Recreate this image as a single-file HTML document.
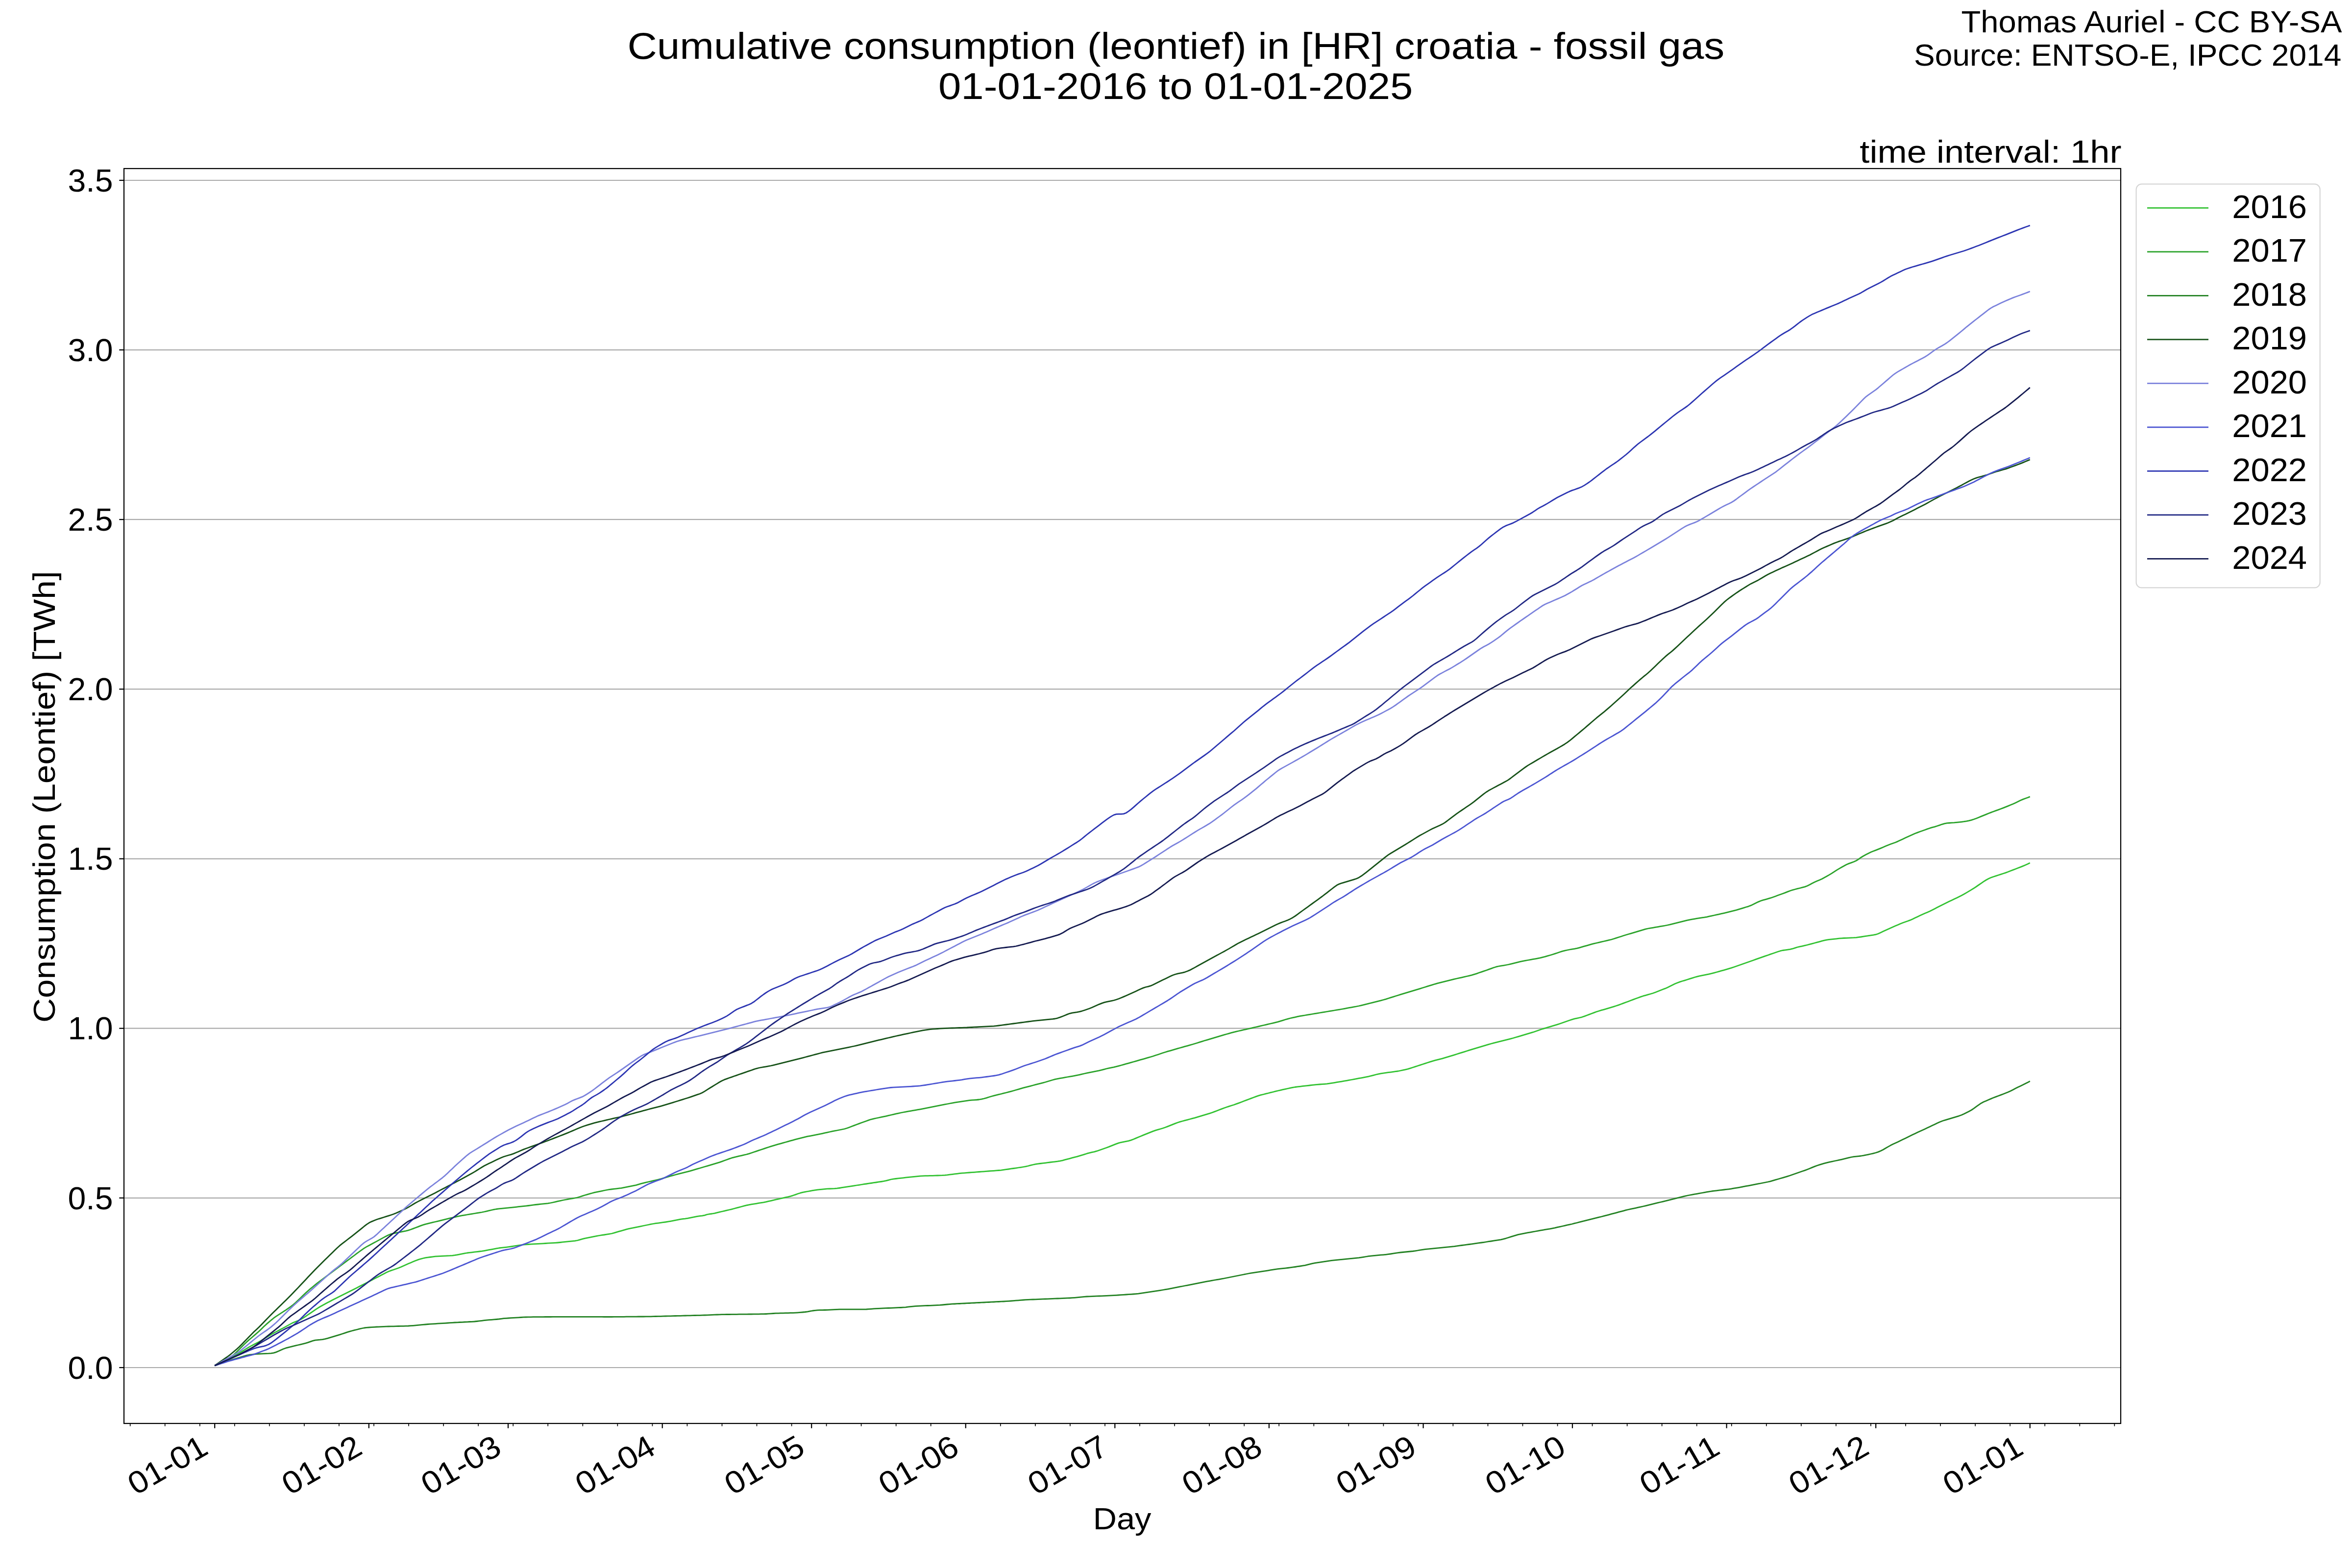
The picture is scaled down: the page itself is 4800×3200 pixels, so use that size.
<!DOCTYPE html><html><head><meta charset="utf-8"><style>html,body{margin:0;padding:0;background:#fff;overflow:hidden;width:4800px;height:3200px;}svg{display:block;}</style></head><body>
<svg width="4800" height="3200" viewBox="0 0 4800 3200" style="font-family:&quot;Liberation Sans&quot;, sans-serif">
<rect width="4800" height="3200" fill="#fff"/>
<line x1="253.0" y1="2791.0" x2="4328.0" y2="2791.0" stroke="#aaaaaa" stroke-width="2.22"/>
<line x1="253.0" y1="2444.8" x2="4328.0" y2="2444.8" stroke="#aaaaaa" stroke-width="2.22"/>
<line x1="253.0" y1="2098.7" x2="4328.0" y2="2098.7" stroke="#aaaaaa" stroke-width="2.22"/>
<line x1="253.0" y1="1752.6" x2="4328.0" y2="1752.6" stroke="#aaaaaa" stroke-width="2.22"/>
<line x1="253.0" y1="1406.4" x2="4328.0" y2="1406.4" stroke="#aaaaaa" stroke-width="2.22"/>
<line x1="253.0" y1="1060.2" x2="4328.0" y2="1060.2" stroke="#aaaaaa" stroke-width="2.22"/>
<line x1="253.0" y1="714.1" x2="4328.0" y2="714.1" stroke="#aaaaaa" stroke-width="2.22"/>
<line x1="253.0" y1="368.0" x2="4328.0" y2="368.0" stroke="#aaaaaa" stroke-width="2.22"/>
<path d="M438.2,2787.0 L443.2,2784.5 L448.2,2781.9 L453.2,2779.4 L458.2,2776.9 L463.2,2774.4 L468.2,2771.8 L473.2,2769.3 L478.2,2766.8 L483.2,2764.2 L488.2,2761.5 L493.2,2758.5 L498.2,2755.4 L503.2,2752.2 L508.2,2749.2 L513.2,2746.4 L518.2,2743.8 L523.2,2741.3 L528.2,2738.8 L533.2,2736.0 L538.2,2732.9 L543.2,2729.7 L548.2,2726.6 L553.2,2723.6 L558.2,2720.8 L563.2,2718.1 L568.2,2715.5 L573.2,2712.8 L578.2,2710.1 L583.2,2707.4 L588.2,2704.6 L593.2,2701.9 L598.2,2699.3 L603.2,2697.2 L608.2,2695.3 L613.2,2693.1 L618.2,2690.1 L623.2,2686.8 L628.2,2683.4 L633.2,2680.0 L638.2,2676.6 L643.2,2673.2 L648.2,2669.9 L653.2,2666.8 L658.2,2664.0 L663.2,2661.2 L668.2,2658.5 L673.2,2655.9 L678.2,2653.3 L683.2,2650.8 L688.2,2648.3 L693.2,2645.8 L698.2,2643.2 L703.2,2640.7 L708.2,2638.2 L713.2,2635.7 L718.2,2633.2 L723.2,2630.7 L728.2,2628.2 L733.2,2625.6 L738.2,2623.1 L743.2,2620.5 L748.2,2617.9 L753.2,2615.3 L758.2,2612.7 L763.2,2610.1 L768.2,2607.5 L773.2,2604.9 L778.2,2602.3 L783.2,2599.7 L788.2,2597.1 L793.2,2594.8 L798.2,2592.9 L803.2,2591.2 L808.2,2589.5 L813.2,2587.7 L818.2,2585.7 L823.2,2583.5 L828.2,2581.3 L833.2,2579.1 L838.2,2577.0 L843.2,2574.8 L848.2,2572.7 L853.2,2570.9 L858.2,2569.3 L863.2,2568.0 L868.2,2566.9 L873.2,2566.2 L878.2,2565.5 L883.2,2564.8 L888.2,2564.2 L893.2,2563.9 L898.2,2563.7 L903.2,2563.4 L908.2,2563.2 L913.2,2562.9 L918.2,2562.7 L923.2,2562.3 L928.2,2561.7 L933.2,2560.8 L938.2,2559.8 L943.2,2558.8 L948.2,2557.8 L953.2,2557.0 L958.2,2556.4 L963.2,2555.8 L968.2,2555.2 L973.2,2554.6 L978.2,2554.0 L983.2,2553.4 L988.2,2552.6 L993.2,2551.7 L998.2,2550.7 L1003.2,2549.8 L1008.2,2548.8 L1013.2,2547.9 L1018.2,2547.0 L1023.2,2546.4 L1028.2,2545.8 L1033.2,2545.3 L1038.2,2544.7 L1043.2,2544.0 L1048.2,2543.2 L1053.2,2542.4 L1058.2,2541.6 L1063.2,2540.8 L1068.2,2540.2 L1073.2,2539.8 L1078.2,2539.5 L1083.2,2539.2 L1088.2,2538.9 L1093.2,2538.6 L1098.2,2538.3 L1103.2,2538.1 L1108.2,2537.8 L1113.2,2537.5 L1118.2,2537.2 L1123.2,2536.9 L1128.2,2536.7 L1133.2,2536.4 L1138.2,2536.0 L1143.2,2535.5 L1148.2,2534.9 L1153.2,2534.4 L1158.2,2533.9 L1163.2,2533.3 L1168.2,2532.8 L1173.2,2532.3 L1178.2,2531.5 L1183.2,2530.1 L1188.2,2528.6 L1193.2,2527.3 L1198.2,2526.3 L1203.2,2525.3 L1208.2,2524.3 L1213.2,2523.3 L1218.2,2522.4 L1223.2,2521.5 L1228.2,2520.7 L1233.2,2520.0 L1238.2,2519.2 L1243.2,2518.4 L1248.2,2517.5 L1253.2,2516.2 L1258.2,2514.7 L1263.2,2513.2 L1268.2,2511.8 L1273.2,2510.3 L1278.2,2508.9 L1283.2,2507.6 L1288.2,2506.6 L1293.2,2505.6 L1298.2,2504.6 L1303.2,2503.6 L1308.2,2502.6 L1313.2,2501.5 L1318.2,2500.5 L1323.2,2499.5 L1328.2,2498.4 L1333.2,2497.5 L1338.2,2496.7 L1343.2,2496.1 L1348.2,2495.4 L1353.2,2494.7 L1358.2,2494.0 L1363.2,2493.2 L1368.2,2492.3 L1373.2,2491.4 L1378.2,2490.4 L1383.2,2489.4 L1388.2,2488.4 L1393.2,2487.6 L1398.2,2487.1 L1403.2,2486.4 L1408.2,2485.4 L1413.2,2484.4 L1418.2,2483.3 L1423.2,2482.3 L1428.2,2481.6 L1433.2,2481.2 L1438.2,2480.1 L1443.2,2478.5 L1448.2,2477.6 L1453.2,2477.0 L1458.2,2476.1 L1463.2,2474.9 L1468.2,2473.7 L1473.2,2472.5 L1478.2,2471.4 L1483.2,2470.2 L1488.2,2469.0 L1493.2,2467.8 L1498.2,2466.5 L1503.2,2465.1 L1508.2,2463.8 L1513.2,2462.5 L1518.2,2461.2 L1523.2,2459.9 L1528.2,2458.8 L1533.2,2457.9 L1538.2,2457.1 L1543.2,2456.3 L1548.2,2455.4 L1553.2,2454.6 L1558.2,2453.8 L1563.2,2452.8 L1568.2,2451.7 L1573.2,2450.6 L1578.2,2449.4 L1583.2,2448.2 L1588.2,2447.1 L1593.2,2446.0 L1598.2,2444.8 L1603.2,2443.7 L1608.2,2442.6 L1613.2,2441.3 L1618.2,2439.8 L1623.2,2438.1 L1628.2,2436.3 L1633.2,2434.7 L1638.2,2433.4 L1643.2,2432.4 L1648.2,2431.5 L1653.2,2430.6 L1658.2,2429.7 L1663.2,2428.9 L1668.2,2428.2 L1673.2,2427.6 L1678.2,2427.1 L1683.2,2426.6 L1688.2,2426.2 L1693.2,2426.0 L1698.2,2425.9 L1703.2,2425.7 L1708.2,2425.2 L1713.2,2424.5 L1718.2,2423.7 L1723.2,2422.9 L1728.2,2422.2 L1733.2,2421.4 L1738.2,2420.6 L1743.2,2419.8 L1748.2,2419.0 L1753.2,2418.3 L1758.2,2417.5 L1763.2,2416.7 L1768.2,2416.0 L1773.2,2415.2 L1778.2,2414.5 L1783.2,2413.7 L1788.2,2413.0 L1793.2,2412.2 L1798.2,2411.5 L1803.2,2410.7 L1808.2,2409.7 L1813.2,2408.3 L1818.2,2407.0 L1823.2,2406.1 L1828.2,2405.5 L1833.2,2404.9 L1838.2,2404.4 L1843.2,2403.8 L1848.2,2403.2 L1853.2,2402.7 L1858.2,2402.2 L1863.2,2401.6 L1868.2,2401.1 L1873.2,2400.6 L1878.2,2400.2 L1883.2,2399.9 L1888.2,2399.7 L1893.2,2399.6 L1898.2,2399.4 L1903.2,2399.3 L1908.2,2399.1 L1913.2,2399.0 L1918.2,2398.8 L1923.2,2398.7 L1928.2,2398.4 L1933.2,2397.9 L1938.2,2397.2 L1943.2,2396.6 L1948.2,2395.9 L1953.2,2395.3 L1958.2,2394.7 L1963.2,2394.2 L1968.2,2393.8 L1973.2,2393.4 L1978.2,2393.0 L1983.2,2392.7 L1988.2,2392.3 L1993.2,2391.9 L1998.2,2391.5 L2003.2,2391.2 L2008.2,2390.8 L2013.2,2390.4 L2018.2,2390.0 L2023.2,2389.7 L2028.2,2389.3 L2033.2,2388.9 L2038.2,2388.5 L2043.2,2388.1 L2048.2,2387.4 L2053.2,2386.7 L2058.2,2386.0 L2063.2,2385.2 L2068.2,2384.5 L2073.2,2383.8 L2078.2,2383.0 L2083.2,2382.3 L2088.2,2381.5 L2093.2,2380.6 L2098.2,2379.5 L2103.2,2378.2 L2108.2,2377.0 L2113.2,2375.9 L2118.2,2375.2 L2123.2,2374.5 L2128.2,2373.9 L2133.2,2373.3 L2138.2,2372.7 L2143.2,2372.0 L2148.2,2371.4 L2153.2,2370.8 L2158.2,2370.2 L2163.2,2369.4 L2168.2,2368.3 L2173.2,2366.9 L2178.2,2365.6 L2183.2,2364.3 L2188.2,2362.9 L2193.2,2361.6 L2198.2,2360.3 L2203.2,2358.8 L2208.2,2357.3 L2213.2,2355.8 L2218.2,2354.2 L2223.2,2352.9 L2228.2,2351.7 L2233.2,2350.6 L2238.2,2349.2 L2243.2,2347.5 L2248.2,2345.8 L2253.2,2344.0 L2258.2,2342.2 L2263.2,2340.4 L2268.2,2338.4 L2273.2,2336.4 L2278.2,2334.4 L2283.2,2332.6 L2288.2,2331.3 L2293.2,2330.3 L2298.2,2329.4 L2303.2,2328.4 L2308.2,2326.9 L2313.2,2325.0 L2318.2,2322.9 L2323.2,2320.8 L2328.2,2318.7 L2333.2,2316.6 L2338.2,2314.6 L2343.2,2312.6 L2348.2,2310.6 L2353.2,2308.6 L2358.2,2306.9 L2363.2,2305.4 L2368.2,2304.0 L2373.2,2302.5 L2378.2,2300.8 L2383.2,2298.9 L2388.2,2296.9 L2393.2,2294.9 L2398.2,2292.9 L2403.2,2291.0 L2408.2,2289.4 L2413.2,2288.0 L2418.2,2286.6 L2423.2,2285.3 L2428.2,2284.0 L2433.2,2282.6 L2438.2,2281.3 L2443.2,2279.8 L2448.2,2278.4 L2453.2,2276.9 L2458.2,2275.4 L2463.2,2273.9 L2468.2,2272.4 L2473.2,2270.7 L2478.2,2268.9 L2483.2,2267.0 L2488.2,2265.0 L2493.2,2263.1 L2498.2,2261.2 L2503.2,2259.5 L2508.2,2257.9 L2513.2,2256.3 L2518.2,2254.7 L2523.2,2252.9 L2528.2,2251.1 L2533.2,2249.2 L2538.2,2247.3 L2543.2,2245.4 L2548.2,2243.5 L2553.2,2241.6 L2558.2,2239.8 L2563.2,2237.9 L2568.2,2236.1 L2573.2,2234.7 L2578.2,2233.5 L2583.2,2232.2 L2588.2,2231.0 L2593.2,2229.7 L2598.2,2228.5 L2603.2,2227.2 L2608.2,2226.0 L2613.2,2224.8 L2618.2,2223.7 L2623.2,2222.6 L2628.2,2221.5 L2633.2,2220.4 L2638.2,2219.4 L2643.2,2218.5 L2648.2,2217.9 L2653.2,2217.3 L2658.2,2216.7 L2663.2,2216.1 L2668.2,2215.6 L2673.2,2215.0 L2678.2,2214.4 L2683.2,2213.9 L2688.2,2213.4 L2693.2,2213.0 L2698.2,2212.7 L2703.2,2212.3 L2708.2,2211.9 L2713.2,2211.2 L2718.2,2210.4 L2723.2,2209.6 L2728.2,2208.7 L2733.2,2207.9 L2738.2,2207.1 L2743.2,2206.2 L2748.2,2205.3 L2753.2,2204.4 L2758.2,2203.5 L2763.2,2202.6 L2768.2,2201.7 L2773.2,2200.7 L2778.2,2199.8 L2783.2,2198.8 L2788.2,2197.8 L2793.2,2196.8 L2798.2,2195.6 L2803.2,2194.3 L2808.2,2193.0 L2813.2,2191.8 L2818.2,2190.8 L2823.2,2190.1 L2828.2,2189.4 L2833.2,2188.7 L2838.2,2188.1 L2843.2,2187.4 L2848.2,2186.7 L2853.2,2186.0 L2858.2,2185.0 L2863.2,2183.9 L2868.2,2182.8 L2873.2,2181.6 L2878.2,2180.1 L2883.2,2178.5 L2888.2,2176.9 L2893.2,2175.3 L2898.2,2173.6 L2903.2,2172.0 L2908.2,2170.4 L2913.2,2168.8 L2918.2,2167.1 L2923.2,2165.6 L2928.2,2164.2 L2933.2,2162.9 L2938.2,2161.6 L2943.2,2160.3 L2948.2,2158.8 L2953.2,2157.3 L2958.2,2155.8 L2963.2,2154.3 L2968.2,2152.8 L2973.2,2151.2 L2978.2,2149.7 L2983.2,2148.1 L2988.2,2146.6 L2993.2,2145.0 L2998.2,2143.4 L3003.2,2141.9 L3008.2,2140.4 L3013.2,2138.9 L3018.2,2137.4 L3023.2,2135.9 L3028.2,2134.4 L3033.2,2132.9 L3038.2,2131.4 L3043.2,2130.0 L3048.2,2128.7 L3053.2,2127.4 L3058.2,2126.2 L3063.2,2124.9 L3068.2,2123.7 L3073.2,2122.4 L3078.2,2121.1 L3083.2,2119.8 L3088.2,2118.5 L3093.2,2117.0 L3098.2,2115.6 L3103.2,2114.1 L3108.2,2112.6 L3113.2,2111.1 L3118.2,2109.7 L3123.2,2108.2 L3128.2,2106.7 L3133.2,2105.0 L3138.2,2103.3 L3143.2,2101.5 L3148.2,2099.8 L3153.2,2098.3 L3158.2,2096.8 L3163.2,2095.3 L3168.2,2093.9 L3173.2,2092.4 L3178.2,2090.9 L3183.2,2089.2 L3188.2,2087.5 L3193.2,2085.7 L3198.2,2084.0 L3203.2,2082.3 L3208.2,2080.6 L3213.2,2079.2 L3218.2,2078.1 L3223.2,2077.0 L3228.2,2075.8 L3233.2,2074.1 L3238.2,2072.2 L3243.2,2070.4 L3248.2,2068.5 L3253.2,2066.6 L3258.2,2064.8 L3263.2,2063.2 L3268.2,2061.7 L3273.2,2060.3 L3278.2,2058.8 L3283.2,2057.3 L3288.2,2055.9 L3293.2,2054.4 L3298.2,2052.8 L3303.2,2051.1 L3308.2,2049.3 L3313.2,2047.4 L3318.2,2045.5 L3323.2,2043.7 L3328.2,2041.8 L3333.2,2039.9 L3338.2,2038.0 L3343.2,2036.2 L3348.2,2034.4 L3353.2,2032.7 L3358.2,2031.3 L3363.2,2029.9 L3368.2,2028.5 L3373.2,2027.0 L3378.2,2025.2 L3383.2,2023.3 L3388.2,2021.3 L3393.2,2019.3 L3398.2,2017.4 L3403.2,2015.2 L3408.2,2012.8 L3413.2,2010.3 L3418.2,2007.8 L3423.2,2005.7 L3428.2,2003.9 L3433.2,2002.3 L3438.2,2000.8 L3443.2,1999.2 L3448.2,1997.7 L3453.2,1996.1 L3458.2,1994.5 L3463.2,1993.1 L3468.2,1991.9 L3473.2,1990.9 L3478.2,1989.9 L3483.2,1988.8 L3488.2,1987.8 L3493.2,1986.7 L3498.2,1985.4 L3503.2,1984.0 L3508.2,1982.6 L3513.2,1981.2 L3518.2,1979.8 L3523.2,1978.4 L3528.2,1976.9 L3533.2,1975.4 L3538.2,1973.7 L3543.2,1972.0 L3548.2,1970.2 L3553.2,1968.5 L3558.2,1966.7 L3563.2,1965.0 L3568.2,1963.2 L3573.2,1961.5 L3578.2,1959.7 L3583.2,1957.9 L3588.2,1956.1 L3593.2,1954.4 L3598.2,1952.6 L3603.2,1950.9 L3608.2,1949.2 L3613.2,1947.4 L3618.2,1945.7 L3623.2,1944.0 L3628.2,1942.3 L3633.2,1940.7 L3638.2,1939.5 L3643.2,1938.8 L3648.2,1938.1 L3653.2,1937.4 L3658.2,1936.2 L3663.2,1934.6 L3668.2,1933.0 L3673.2,1931.9 L3678.2,1930.8 L3683.2,1929.7 L3688.2,1928.5 L3693.2,1927.2 L3698.2,1925.9 L3703.2,1924.5 L3708.2,1923.1 L3713.2,1921.8 L3718.2,1920.4 L3723.2,1919.2 L3728.2,1918.1 L3733.2,1917.4 L3738.2,1916.9 L3743.2,1916.3 L3748.2,1915.8 L3753.2,1915.2 L3758.2,1914.8 L3763.2,1914.5 L3768.2,1914.3 L3773.2,1914.1 L3778.2,1913.9 L3783.2,1913.7 L3788.2,1913.3 L3793.2,1912.7 L3798.2,1912.0 L3803.2,1911.2 L3808.2,1910.4 L3813.2,1909.6 L3818.2,1908.9 L3823.2,1908.2 L3828.2,1907.2 L3833.2,1905.5 L3838.2,1903.2 L3843.2,1900.8 L3848.2,1898.5 L3853.2,1896.2 L3858.2,1894.0 L3863.2,1891.8 L3868.2,1889.6 L3873.2,1887.4 L3878.2,1885.2 L3883.2,1883.3 L3888.2,1881.5 L3893.2,1879.8 L3898.2,1877.9 L3903.2,1875.7 L3908.2,1873.3 L3913.2,1870.9 L3918.2,1868.6 L3923.2,1866.3 L3928.2,1864.1 L3933.2,1861.9 L3938.2,1859.7 L3943.2,1857.3 L3948.2,1854.7 L3953.2,1852.1 L3958.2,1849.5 L3963.2,1846.9 L3968.2,1844.5 L3973.2,1842.1 L3978.2,1839.6 L3983.2,1837.2 L3988.2,1834.8 L3993.2,1832.4 L3998.2,1829.9 L4003.2,1827.4 L4008.2,1824.8 L4013.2,1821.9 L4018.2,1818.9 L4023.2,1815.9 L4028.2,1812.8 L4033.2,1809.5 L4038.2,1806.0 L4043.2,1802.6 L4048.2,1799.2 L4053.2,1796.0 L4058.2,1793.3 L4063.2,1791.0 L4068.2,1789.2 L4073.2,1787.6 L4078.2,1786.0 L4083.2,1784.4 L4088.2,1782.8 L4093.2,1781.1 L4098.2,1779.3 L4103.2,1777.3 L4108.2,1775.4 L4113.2,1773.5 L4118.2,1771.5 L4123.2,1769.6 L4128.2,1767.6 L4133.2,1765.5 L4138.2,1763.3 L4142.8,1761.1" fill="none" stroke="#32c232" stroke-width="2.78" stroke-linejoin="round"/>
<path d="M438.2,2787.0 L443.2,2784.3 L448.2,2781.6 L453.2,2779.0 L458.2,2776.3 L463.2,2773.6 L468.2,2771.0 L473.2,2767.8 L478.2,2763.6 L483.2,2758.7 L488.2,2753.7 L493.2,2748.7 L498.2,2743.7 L503.2,2738.9 L508.2,2734.4 L513.2,2730.2 L518.2,2725.9 L523.2,2721.6 L528.2,2717.2 L533.2,2712.4 L538.2,2707.6 L543.2,2702.9 L548.2,2698.6 L553.2,2694.3 L558.2,2690.2 L563.2,2686.6 L568.2,2683.3 L573.2,2680.1 L578.2,2676.9 L583.2,2673.6 L588.2,2670.1 L593.2,2666.6 L598.2,2662.9 L603.2,2658.6 L608.2,2653.8 L613.2,2648.9 L618.2,2644.1 L623.2,2639.3 L628.2,2634.7 L633.2,2630.3 L638.2,2626.2 L643.2,2622.2 L648.2,2618.2 L653.2,2614.4 L658.2,2610.6 L663.2,2606.9 L668.2,2603.1 L673.2,2599.4 L678.2,2595.6 L683.2,2591.9 L688.2,2588.2 L693.2,2584.4 L698.2,2580.7 L703.2,2576.9 L708.2,2573.2 L713.2,2569.5 L718.2,2565.7 L723.2,2562.0 L728.2,2558.2 L733.2,2554.5 L738.2,2550.8 L743.2,2547.4 L748.2,2544.4 L753.2,2541.7 L758.2,2539.0 L763.2,2536.3 L768.2,2533.6 L773.2,2530.9 L778.2,2528.1 L783.2,2525.4 L788.2,2522.7 L793.2,2520.2 L798.2,2518.4 L803.2,2517.2 L808.2,2516.2 L813.2,2515.2 L818.2,2514.1 L823.2,2513.1 L828.2,2512.1 L833.2,2510.9 L838.2,2509.3 L843.2,2507.4 L848.2,2505.5 L853.2,2503.6 L858.2,2501.6 L863.2,2499.9 L868.2,2498.4 L873.2,2497.1 L878.2,2495.9 L883.2,2494.7 L888.2,2493.5 L893.2,2492.3 L898.2,2491.1 L903.2,2489.8 L908.2,2488.6 L913.2,2487.4 L918.2,2486.2 L923.2,2485.0 L928.2,2483.8 L933.2,2482.6 L938.2,2481.6 L943.2,2480.7 L948.2,2479.9 L953.2,2479.0 L958.2,2478.2 L963.2,2477.4 L968.2,2476.5 L973.2,2475.7 L978.2,2474.8 L983.2,2474.0 L988.2,2473.0 L993.2,2471.8 L998.2,2470.7 L1003.2,2469.5 L1008.2,2468.4 L1013.2,2467.5 L1018.2,2466.8 L1023.2,2466.3 L1028.2,2465.8 L1033.2,2465.3 L1038.2,2464.8 L1043.2,2464.3 L1048.2,2463.8 L1053.2,2463.3 L1058.2,2462.7 L1063.2,2462.2 L1068.2,2461.7 L1073.2,2461.1 L1078.2,2460.5 L1083.2,2459.8 L1088.2,2459.1 L1093.2,2458.5 L1098.2,2458.0 L1103.2,2457.4 L1108.2,2456.9 L1113.2,2456.3 L1118.2,2455.8 L1123.2,2455.0 L1128.2,2454.0 L1133.2,2452.9 L1138.2,2451.7 L1143.2,2450.6 L1148.2,2449.5 L1153.2,2448.5 L1158.2,2447.6 L1163.2,2446.7 L1168.2,2445.9 L1173.2,2445.0 L1178.2,2444.0 L1183.2,2442.5 L1188.2,2440.9 L1193.2,2439.3 L1198.2,2437.8 L1203.2,2436.4 L1208.2,2435.0 L1213.2,2433.7 L1218.2,2432.6 L1223.2,2431.6 L1228.2,2430.6 L1233.2,2429.5 L1238.2,2428.5 L1243.2,2427.7 L1248.2,2427.0 L1253.2,2426.4 L1258.2,2425.8 L1263.2,2425.2 L1268.2,2424.6 L1273.2,2423.7 L1278.2,2422.7 L1283.2,2421.7 L1288.2,2420.7 L1293.2,2419.7 L1298.2,2418.6 L1303.2,2417.2 L1308.2,2415.7 L1313.2,2414.4 L1318.2,2413.2 L1323.2,2412.0 L1328.2,2410.9 L1333.2,2409.7 L1338.2,2408.5 L1343.2,2407.4 L1348.2,2406.1 L1353.2,2404.7 L1358.2,2403.2 L1363.2,2401.7 L1368.2,2400.2 L1373.2,2398.8 L1378.2,2397.5 L1383.2,2396.2 L1388.2,2394.9 L1393.2,2393.7 L1398.2,2392.4 L1403.2,2391.2 L1408.2,2389.8 L1413.2,2388.3 L1418.2,2386.9 L1423.2,2385.4 L1428.2,2384.0 L1433.2,2382.5 L1438.2,2381.0 L1443.2,2379.6 L1448.2,2378.1 L1453.2,2376.6 L1458.2,2375.1 L1463.2,2373.6 L1468.2,2372.1 L1473.2,2370.4 L1478.2,2368.5 L1483.2,2366.7 L1488.2,2364.9 L1493.2,2363.2 L1498.2,2361.8 L1503.2,2360.6 L1508.2,2359.4 L1513.2,2358.3 L1518.2,2357.2 L1523.2,2356.0 L1528.2,2354.6 L1533.2,2353.0 L1538.2,2351.3 L1543.2,2349.6 L1548.2,2347.9 L1553.2,2346.2 L1558.2,2344.6 L1563.2,2342.9 L1568.2,2341.2 L1573.2,2339.6 L1578.2,2338.1 L1583.2,2336.7 L1588.2,2335.2 L1593.2,2333.8 L1598.2,2332.4 L1603.2,2331.0 L1608.2,2329.6 L1613.2,2328.2 L1618.2,2326.8 L1623.2,2325.4 L1628.2,2324.1 L1633.2,2322.8 L1638.2,2321.6 L1643.2,2320.4 L1648.2,2319.2 L1653.2,2318.3 L1658.2,2317.3 L1663.2,2316.4 L1668.2,2315.4 L1673.2,2314.4 L1678.2,2313.3 L1683.2,2312.2 L1688.2,2311.1 L1693.2,2310.0 L1698.2,2308.9 L1703.2,2307.9 L1708.2,2307.0 L1713.2,2306.0 L1718.2,2305.0 L1723.2,2304.0 L1728.2,2302.5 L1733.2,2300.7 L1738.2,2298.8 L1743.2,2296.9 L1748.2,2295.0 L1753.2,2293.1 L1758.2,2291.3 L1763.2,2289.5 L1768.2,2287.7 L1773.2,2285.9 L1778.2,2284.3 L1783.2,2283.1 L1788.2,2282.0 L1793.2,2281.0 L1798.2,2279.9 L1803.2,2278.9 L1808.2,2277.8 L1813.2,2276.7 L1818.2,2275.5 L1823.2,2274.4 L1828.2,2273.2 L1833.2,2272.1 L1838.2,2271.0 L1843.2,2270.0 L1848.2,2269.1 L1853.2,2268.2 L1858.2,2267.3 L1863.2,2266.4 L1868.2,2265.6 L1873.2,2264.7 L1878.2,2263.8 L1883.2,2262.8 L1888.2,2261.9 L1893.2,2260.9 L1898.2,2259.9 L1903.2,2258.9 L1908.2,2257.9 L1913.2,2256.9 L1918.2,2255.9 L1923.2,2254.9 L1928.2,2253.9 L1933.2,2253.0 L1938.2,2252.0 L1943.2,2251.1 L1948.2,2250.2 L1953.2,2249.4 L1958.2,2248.6 L1963.2,2247.8 L1968.2,2247.1 L1973.2,2246.3 L1978.2,2245.6 L1983.2,2245.1 L1988.2,2244.8 L1993.2,2244.5 L1998.2,2244.0 L2003.2,2243.2 L2008.2,2242.0 L2013.2,2240.6 L2018.2,2239.0 L2023.2,2237.5 L2028.2,2236.2 L2033.2,2234.9 L2038.2,2233.7 L2043.2,2232.5 L2048.2,2231.2 L2053.2,2230.0 L2058.2,2228.7 L2063.2,2227.4 L2068.2,2226.0 L2073.2,2224.5 L2078.2,2223.1 L2083.2,2221.6 L2088.2,2220.2 L2093.2,2218.9 L2098.2,2217.6 L2103.2,2216.3 L2108.2,2215.0 L2113.2,2213.7 L2118.2,2212.4 L2123.2,2211.2 L2128.2,2209.8 L2133.2,2208.5 L2138.2,2207.0 L2143.2,2205.5 L2148.2,2204.0 L2153.2,2202.6 L2158.2,2201.6 L2163.2,2200.7 L2168.2,2199.8 L2173.2,2198.9 L2178.2,2198.0 L2183.2,2197.2 L2188.2,2196.3 L2193.2,2195.4 L2198.2,2194.4 L2203.2,2193.3 L2208.2,2192.2 L2213.2,2191.0 L2218.2,2189.9 L2223.2,2188.8 L2228.2,2187.8 L2233.2,2186.8 L2238.2,2185.9 L2243.2,2184.9 L2248.2,2183.7 L2253.2,2182.3 L2258.2,2181.0 L2263.2,2179.8 L2268.2,2178.9 L2273.2,2177.9 L2278.2,2176.7 L2283.2,2175.3 L2288.2,2174.0 L2293.2,2172.6 L2298.2,2171.2 L2303.2,2169.8 L2308.2,2168.4 L2313.2,2167.0 L2318.2,2165.6 L2323.2,2164.2 L2328.2,2162.7 L2333.2,2161.3 L2338.2,2159.9 L2343.2,2158.4 L2348.2,2157.0 L2353.2,2155.5 L2358.2,2153.8 L2363.2,2152.2 L2368.2,2150.5 L2373.2,2148.8 L2378.2,2147.2 L2383.2,2145.7 L2388.2,2144.3 L2393.2,2142.8 L2398.2,2141.4 L2403.2,2139.9 L2408.2,2138.5 L2413.2,2137.1 L2418.2,2135.7 L2423.2,2134.3 L2428.2,2132.9 L2433.2,2131.5 L2438.2,2130.0 L2443.2,2128.5 L2448.2,2126.9 L2453.2,2125.4 L2458.2,2123.8 L2463.2,2122.3 L2468.2,2120.8 L2473.2,2119.3 L2478.2,2117.8 L2483.2,2116.3 L2488.2,2114.8 L2493.2,2113.3 L2498.2,2111.9 L2503.2,2110.5 L2508.2,2109.1 L2513.2,2107.7 L2518.2,2106.4 L2523.2,2105.1 L2528.2,2104.0 L2533.2,2102.8 L2538.2,2101.7 L2543.2,2100.6 L2548.2,2099.5 L2553.2,2098.3 L2558.2,2097.2 L2563.2,2096.0 L2568.2,2094.9 L2573.2,2093.7 L2578.2,2092.5 L2583.2,2091.3 L2588.2,2090.2 L2593.2,2089.0 L2598.2,2087.8 L2603.2,2086.6 L2608.2,2085.4 L2613.2,2083.9 L2618.2,2082.4 L2623.2,2080.8 L2628.2,2079.3 L2633.2,2078.0 L2638.2,2076.9 L2643.2,2075.8 L2648.2,2074.7 L2653.2,2073.7 L2658.2,2072.8 L2663.2,2072.0 L2668.2,2071.1 L2673.2,2070.3 L2678.2,2069.5 L2683.2,2068.7 L2688.2,2067.9 L2693.2,2067.0 L2698.2,2066.2 L2703.2,2065.4 L2708.2,2064.5 L2713.2,2063.7 L2718.2,2062.9 L2723.2,2062.0 L2728.2,2061.2 L2733.2,2060.4 L2738.2,2059.5 L2743.2,2058.6 L2748.2,2057.7 L2753.2,2056.7 L2758.2,2055.8 L2763.2,2054.9 L2768.2,2054.0 L2773.2,2053.0 L2778.2,2051.8 L2783.2,2050.6 L2788.2,2049.4 L2793.2,2048.1 L2798.2,2046.9 L2803.2,2045.7 L2808.2,2044.4 L2813.2,2043.1 L2818.2,2041.9 L2823.2,2040.5 L2828.2,2039.1 L2833.2,2037.5 L2838.2,2035.9 L2843.2,2034.4 L2848.2,2032.8 L2853.2,2031.2 L2858.2,2029.7 L2863.2,2028.2 L2868.2,2026.7 L2873.2,2025.2 L2878.2,2023.7 L2883.2,2022.2 L2888.2,2020.6 L2893.2,2019.1 L2898.2,2017.6 L2903.2,2016.0 L2908.2,2014.5 L2913.2,2012.9 L2918.2,2011.4 L2923.2,2009.9 L2928.2,2008.3 L2933.2,2006.9 L2938.2,2005.6 L2943.2,2004.3 L2948.2,2003.1 L2953.2,2001.8 L2958.2,2000.6 L2963.2,1999.3 L2968.2,1998.1 L2973.2,1997.0 L2978.2,1995.9 L2983.2,1994.8 L2988.2,1993.7 L2993.2,1992.5 L2998.2,1991.4 L3003.2,1990.2 L3008.2,1988.7 L3013.2,1987.1 L3018.2,1985.3 L3023.2,1983.6 L3028.2,1981.9 L3033.2,1980.2 L3038.2,1978.4 L3043.2,1976.6 L3048.2,1974.8 L3053.2,1973.2 L3058.2,1972.0 L3063.2,1971.1 L3068.2,1970.4 L3073.2,1969.5 L3078.2,1968.5 L3083.2,1967.3 L3088.2,1966.1 L3093.2,1964.8 L3098.2,1963.6 L3103.2,1962.4 L3108.2,1961.3 L3113.2,1960.4 L3118.2,1959.5 L3123.2,1958.6 L3128.2,1957.7 L3133.2,1956.8 L3138.2,1955.8 L3143.2,1954.9 L3148.2,1953.7 L3153.2,1952.4 L3158.2,1950.9 L3163.2,1949.5 L3168.2,1948.0 L3173.2,1946.4 L3178.2,1944.7 L3183.2,1943.0 L3188.2,1941.4 L3193.2,1940.1 L3198.2,1939.0 L3203.2,1938.0 L3208.2,1937.2 L3213.2,1936.4 L3218.2,1935.4 L3223.2,1934.1 L3228.2,1932.7 L3233.2,1931.2 L3238.2,1929.8 L3243.2,1928.3 L3248.2,1926.9 L3253.2,1925.7 L3258.2,1924.5 L3263.2,1923.3 L3268.2,1922.2 L3273.2,1921.0 L3278.2,1919.9 L3283.2,1918.7 L3288.2,1917.5 L3293.2,1916.0 L3298.2,1914.4 L3303.2,1912.8 L3308.2,1911.2 L3313.2,1909.5 L3318.2,1908.0 L3323.2,1906.5 L3328.2,1905.1 L3333.2,1903.6 L3338.2,1902.2 L3343.2,1900.7 L3348.2,1899.2 L3353.2,1897.7 L3358.2,1896.2 L3363.2,1895.0 L3368.2,1894.1 L3373.2,1893.3 L3378.2,1892.4 L3383.2,1891.6 L3388.2,1890.7 L3393.2,1889.9 L3398.2,1889.0 L3403.2,1888.0 L3408.2,1886.9 L3413.2,1885.6 L3418.2,1884.4 L3423.2,1883.2 L3428.2,1881.9 L3433.2,1880.6 L3438.2,1879.4 L3443.2,1878.2 L3448.2,1877.2 L3453.2,1876.2 L3458.2,1875.3 L3463.2,1874.4 L3468.2,1873.7 L3473.2,1872.9 L3478.2,1872.2 L3483.2,1871.3 L3488.2,1870.2 L3493.2,1869.1 L3498.2,1868.0 L3503.2,1866.9 L3508.2,1865.8 L3513.2,1864.7 L3518.2,1863.6 L3523.2,1862.4 L3528.2,1861.2 L3533.2,1859.9 L3538.2,1858.7 L3543.2,1857.4 L3548.2,1855.9 L3553.2,1854.4 L3558.2,1852.9 L3563.2,1851.3 L3568.2,1849.8 L3573.2,1847.9 L3578.2,1845.6 L3583.2,1843.1 L3588.2,1840.6 L3593.2,1838.5 L3598.2,1836.9 L3603.2,1835.6 L3608.2,1834.2 L3613.2,1832.7 L3618.2,1831.0 L3623.2,1829.2 L3628.2,1827.3 L3633.2,1825.5 L3638.2,1823.7 L3643.2,1821.9 L3648.2,1819.9 L3653.2,1818.0 L3658.2,1816.3 L3663.2,1815.0 L3668.2,1813.7 L3673.2,1812.5 L3678.2,1811.2 L3683.2,1809.9 L3688.2,1808.0 L3693.2,1805.5 L3698.2,1802.8 L3703.2,1800.3 L3708.2,1798.1 L3713.2,1796.0 L3718.2,1793.7 L3723.2,1791.0 L3728.2,1788.2 L3733.2,1785.4 L3738.2,1782.4 L3743.2,1779.1 L3748.2,1775.9 L3753.2,1772.9 L3758.2,1770.0 L3763.2,1767.2 L3768.2,1764.5 L3773.2,1762.4 L3778.2,1760.6 L3783.2,1758.8 L3788.2,1756.5 L3793.2,1753.3 L3798.2,1749.7 L3803.2,1746.7 L3808.2,1744.0 L3813.2,1741.4 L3818.2,1739.0 L3823.2,1737.0 L3828.2,1735.1 L3833.2,1733.1 L3838.2,1731.1 L3843.2,1729.0 L3848.2,1726.8 L3853.2,1724.7 L3858.2,1722.8 L3863.2,1721.0 L3868.2,1719.2 L3873.2,1717.1 L3878.2,1714.8 L3883.2,1712.5 L3888.2,1710.1 L3893.2,1707.8 L3898.2,1705.5 L3903.2,1703.2 L3908.2,1701.0 L3913.2,1699.1 L3918.2,1697.2 L3923.2,1695.5 L3928.2,1693.7 L3933.2,1691.9 L3938.2,1690.2 L3943.2,1688.7 L3948.2,1687.4 L3953.2,1685.8 L3958.2,1684.1 L3963.2,1682.3 L3968.2,1680.8 L3973.2,1679.9 L3978.2,1679.5 L3983.2,1679.2 L3988.2,1678.9 L3993.2,1678.4 L3998.2,1677.8 L4003.2,1677.3 L4008.2,1676.7 L4013.2,1675.9 L4018.2,1674.9 L4023.2,1673.6 L4028.2,1672.0 L4033.2,1670.2 L4038.2,1668.2 L4043.2,1666.1 L4048.2,1664.1 L4053.2,1662.1 L4058.2,1660.0 L4063.2,1658.1 L4068.2,1656.2 L4073.2,1654.4 L4078.2,1652.6 L4083.2,1650.8 L4088.2,1648.9 L4093.2,1646.9 L4098.2,1644.9 L4103.2,1642.8 L4108.2,1640.7 L4113.2,1638.4 L4118.2,1636.0 L4123.2,1633.5 L4128.2,1631.4 L4133.2,1629.5 L4138.2,1627.7 L4142.8,1625.9" fill="none" stroke="#2aa22a" stroke-width="2.78" stroke-linejoin="round"/>
<path d="M438.2,2787.0 L443.2,2785.2 L448.2,2783.5 L453.2,2781.7 L458.2,2780.0 L463.2,2778.2 L468.2,2776.6 L473.2,2775.0 L478.2,2773.5 L483.2,2772.0 L488.2,2770.5 L493.2,2769.0 L498.2,2767.5 L503.2,2766.1 L508.2,2765.0 L513.2,2764.3 L518.2,2763.8 L523.2,2763.4 L528.2,2763.0 L533.2,2762.8 L538.2,2762.6 L543.2,2762.4 L548.2,2762.2 L553.2,2761.8 L558.2,2761.1 L563.2,2759.6 L568.2,2757.5 L573.2,2755.2 L578.2,2753.0 L583.2,2751.2 L588.2,2749.8 L593.2,2748.6 L598.2,2747.4 L603.2,2746.2 L608.2,2745.0 L613.2,2743.9 L618.2,2742.7 L623.2,2741.4 L628.2,2739.9 L633.2,2738.1 L638.2,2736.4 L643.2,2735.2 L648.2,2734.6 L653.2,2734.2 L658.2,2733.6 L663.2,2732.7 L668.2,2731.4 L673.2,2729.9 L678.2,2728.4 L683.2,2726.9 L688.2,2725.4 L693.2,2723.9 L698.2,2722.2 L703.2,2720.6 L708.2,2718.9 L713.2,2717.4 L718.2,2716.0 L723.2,2714.7 L728.2,2713.5 L733.2,2712.2 L738.2,2711.0 L743.2,2710.0 L748.2,2709.4 L753.2,2709.0 L758.2,2708.6 L763.2,2708.3 L768.2,2708.0 L773.2,2707.8 L778.2,2707.6 L783.2,2707.4 L788.2,2707.2 L793.2,2707.0 L798.2,2706.9 L803.2,2706.8 L808.2,2706.6 L813.2,2706.5 L818.2,2706.4 L823.2,2706.3 L828.2,2706.1 L833.2,2706.0 L838.2,2705.7 L843.2,2705.3 L848.2,2704.8 L853.2,2704.4 L858.2,2703.9 L863.2,2703.4 L868.2,2703.0 L873.2,2702.5 L878.2,2702.2 L883.2,2701.9 L888.2,2701.6 L893.2,2701.2 L898.2,2700.9 L903.2,2700.6 L908.2,2700.3 L913.2,2700.0 L918.2,2699.7 L923.2,2699.3 L928.2,2699.0 L933.2,2698.8 L938.2,2698.5 L943.2,2698.3 L948.2,2698.0 L953.2,2697.8 L958.2,2697.5 L963.2,2697.3 L968.2,2697.0 L973.2,2696.5 L978.2,2695.9 L983.2,2695.3 L988.2,2694.7 L993.2,2694.2 L998.2,2693.7 L1003.2,2693.3 L1008.2,2692.9 L1013.2,2692.5 L1018.2,2692.0 L1023.2,2691.3 L1028.2,2690.7 L1033.2,2690.3 L1038.2,2690.0 L1043.2,2689.7 L1048.2,2689.4 L1053.2,2689.1 L1058.2,2688.8 L1063.2,2688.5 L1068.2,2688.2 L1073.2,2688.0 L1078.2,2687.8 L1083.2,2687.8 L1088.2,2687.7 L1093.2,2687.7 L1098.2,2687.7 L1103.2,2687.6 L1108.2,2687.6 L1113.2,2687.5 L1118.2,2687.5 L1123.2,2687.5 L1128.2,2687.4 L1133.2,2687.4 L1138.2,2687.3 L1143.2,2687.3 L1148.2,2687.3 L1153.2,2687.3 L1158.2,2687.3 L1163.2,2687.4 L1168.2,2687.4 L1173.2,2687.4 L1178.2,2687.4 L1183.2,2687.4 L1188.2,2687.4 L1193.2,2687.4 L1198.2,2687.4 L1203.2,2687.4 L1208.2,2687.4 L1213.2,2687.4 L1218.2,2687.4 L1223.2,2687.4 L1228.2,2687.4 L1233.2,2687.5 L1238.2,2687.5 L1243.2,2687.5 L1248.2,2687.5 L1253.2,2687.4 L1258.2,2687.4 L1263.2,2687.3 L1268.2,2687.3 L1273.2,2687.3 L1278.2,2687.2 L1283.2,2687.2 L1288.2,2687.2 L1293.2,2687.1 L1298.2,2687.1 L1303.2,2687.0 L1308.2,2687.0 L1313.2,2687.0 L1318.2,2686.9 L1323.2,2686.9 L1328.2,2686.8 L1333.2,2686.6 L1338.2,2686.5 L1343.2,2686.4 L1348.2,2686.3 L1353.2,2686.1 L1358.2,2686.0 L1363.2,2685.9 L1368.2,2685.8 L1373.2,2685.6 L1378.2,2685.5 L1383.2,2685.4 L1388.2,2685.3 L1393.2,2685.1 L1398.2,2685.0 L1403.2,2684.9 L1408.2,2684.8 L1413.2,2684.6 L1418.2,2684.5 L1423.2,2684.4 L1428.2,2684.3 L1433.2,2684.1 L1438.2,2684.0 L1443.2,2683.8 L1448.2,2683.6 L1453.2,2683.4 L1458.2,2683.2 L1463.2,2683.0 L1468.2,2682.8 L1473.2,2682.6 L1478.2,2682.6 L1483.2,2682.5 L1488.2,2682.5 L1493.2,2682.4 L1498.2,2682.3 L1503.2,2682.3 L1508.2,2682.2 L1513.2,2682.2 L1518.2,2682.1 L1523.2,2682.1 L1528.2,2682.0 L1533.2,2682.0 L1538.2,2681.9 L1543.2,2681.8 L1548.2,2681.8 L1553.2,2681.7 L1558.2,2681.7 L1563.2,2681.5 L1568.2,2681.2 L1573.2,2680.9 L1578.2,2680.5 L1583.2,2680.2 L1588.2,2680.1 L1593.2,2679.9 L1598.2,2679.8 L1603.2,2679.7 L1608.2,2679.6 L1613.2,2679.4 L1618.2,2679.3 L1623.2,2679.1 L1628.2,2678.8 L1633.2,2678.4 L1638.2,2678.0 L1643.2,2677.5 L1648.2,2676.8 L1653.2,2675.9 L1658.2,2675.0 L1663.2,2674.3 L1668.2,2673.9 L1673.2,2673.7 L1678.2,2673.6 L1683.2,2673.5 L1688.2,2673.3 L1693.2,2673.1 L1698.2,2672.8 L1703.2,2672.6 L1708.2,2672.4 L1713.2,2672.2 L1718.2,2672.1 L1723.2,2672.1 L1728.2,2672.1 L1733.2,2672.1 L1738.2,2672.1 L1743.2,2672.1 L1748.2,2672.1 L1753.2,2672.1 L1758.2,2672.1 L1763.2,2672.1 L1768.2,2672.0 L1773.2,2671.7 L1778.2,2671.3 L1783.2,2670.9 L1788.2,2670.6 L1793.2,2670.3 L1798.2,2670.1 L1803.2,2669.9 L1808.2,2669.7 L1813.2,2669.5 L1818.2,2669.3 L1823.2,2669.1 L1828.2,2668.9 L1833.2,2668.7 L1838.2,2668.5 L1843.2,2668.2 L1848.2,2667.8 L1853.2,2667.2 L1858.2,2666.6 L1863.2,2666.1 L1868.2,2665.6 L1873.2,2665.3 L1878.2,2665.1 L1883.2,2664.9 L1888.2,2664.7 L1893.2,2664.5 L1898.2,2664.3 L1903.2,2664.1 L1908.2,2663.8 L1913.2,2663.6 L1918.2,2663.4 L1923.2,2663.0 L1928.2,2662.5 L1933.2,2662.0 L1938.2,2661.6 L1943.2,2661.2 L1948.2,2661.0 L1953.2,2660.7 L1958.2,2660.5 L1963.2,2660.2 L1968.2,2660.0 L1973.2,2659.7 L1978.2,2659.5 L1983.2,2659.2 L1988.2,2659.0 L1993.2,2658.7 L1998.2,2658.5 L2003.2,2658.2 L2008.2,2658.0 L2013.2,2657.7 L2018.2,2657.5 L2023.2,2657.2 L2028.2,2657.0 L2033.2,2656.7 L2038.2,2656.5 L2043.2,2656.2 L2048.2,2656.0 L2053.2,2655.7 L2058.2,2655.3 L2063.2,2655.0 L2068.2,2654.6 L2073.2,2654.2 L2078.2,2653.8 L2083.2,2653.4 L2088.2,2653.0 L2093.2,2652.6 L2098.2,2652.4 L2103.2,2652.2 L2108.2,2652.0 L2113.2,2651.8 L2118.2,2651.6 L2123.2,2651.4 L2128.2,2651.2 L2133.2,2651.0 L2138.2,2650.8 L2143.2,2650.6 L2148.2,2650.4 L2153.2,2650.2 L2158.2,2650.0 L2163.2,2649.8 L2168.2,2649.6 L2173.2,2649.4 L2178.2,2649.2 L2183.2,2649.0 L2188.2,2648.7 L2193.2,2648.3 L2198.2,2647.8 L2203.2,2647.3 L2208.2,2646.8 L2213.2,2646.3 L2218.2,2646.0 L2223.2,2645.8 L2228.2,2645.6 L2233.2,2645.4 L2238.2,2645.2 L2243.2,2645.0 L2248.2,2644.8 L2253.2,2644.6 L2258.2,2644.4 L2263.2,2644.2 L2268.2,2643.9 L2273.2,2643.6 L2278.2,2643.3 L2283.2,2643.0 L2288.2,2642.6 L2293.2,2642.3 L2298.2,2642.0 L2303.2,2641.6 L2308.2,2641.3 L2313.2,2641.0 L2318.2,2640.6 L2323.2,2640.1 L2328.2,2639.4 L2333.2,2638.7 L2338.2,2637.9 L2343.2,2637.1 L2348.2,2636.4 L2353.2,2635.6 L2358.2,2634.8 L2363.2,2634.1 L2368.2,2633.3 L2373.2,2632.5 L2378.2,2631.7 L2383.2,2630.8 L2388.2,2629.8 L2393.2,2628.8 L2398.2,2627.9 L2403.2,2626.9 L2408.2,2625.9 L2413.2,2625.0 L2418.2,2624.0 L2423.2,2623.1 L2428.2,2622.1 L2433.2,2621.2 L2438.2,2620.2 L2443.2,2619.2 L2448.2,2618.2 L2453.2,2617.2 L2458.2,2616.2 L2463.2,2615.2 L2468.2,2614.3 L2473.2,2613.4 L2478.2,2612.5 L2483.2,2611.7 L2488.2,2610.8 L2493.2,2609.9 L2498.2,2609.0 L2503.2,2608.0 L2508.2,2607.0 L2513.2,2606.0 L2518.2,2605.0 L2523.2,2604.0 L2528.2,2603.0 L2533.2,2602.0 L2538.2,2601.0 L2543.2,2600.0 L2548.2,2599.0 L2553.2,2598.1 L2558.2,2597.3 L2563.2,2596.6 L2568.2,2595.8 L2573.2,2595.1 L2578.2,2594.3 L2583.2,2593.6 L2588.2,2592.8 L2593.2,2591.9 L2598.2,2591.1 L2603.2,2590.3 L2608.2,2589.7 L2613.2,2589.2 L2618.2,2588.6 L2623.2,2588.1 L2628.2,2587.5 L2633.2,2586.9 L2638.2,2586.2 L2643.2,2585.5 L2648.2,2584.7 L2653.2,2584.0 L2658.2,2583.2 L2663.2,2582.3 L2668.2,2581.1 L2673.2,2579.8 L2678.2,2578.6 L2683.2,2577.7 L2688.2,2576.9 L2693.2,2576.1 L2698.2,2575.3 L2703.2,2574.6 L2708.2,2573.8 L2713.2,2573.1 L2718.2,2572.4 L2723.2,2571.9 L2728.2,2571.4 L2733.2,2570.9 L2738.2,2570.4 L2743.2,2569.9 L2748.2,2569.4 L2753.2,2568.9 L2758.2,2568.4 L2763.2,2567.9 L2768.2,2567.4 L2773.2,2566.9 L2778.2,2566.2 L2783.2,2565.4 L2788.2,2564.5 L2793.2,2563.7 L2798.2,2563.1 L2803.2,2562.6 L2808.2,2562.1 L2813.2,2561.7 L2818.2,2561.2 L2823.2,2560.8 L2828.2,2560.3 L2833.2,2559.7 L2838.2,2559.0 L2843.2,2558.2 L2848.2,2557.4 L2853.2,2556.7 L2858.2,2556.0 L2863.2,2555.5 L2868.2,2555.0 L2873.2,2554.5 L2878.2,2554.0 L2883.2,2553.5 L2888.2,2552.8 L2893.2,2552.0 L2898.2,2551.2 L2903.2,2550.4 L2908.2,2549.7 L2913.2,2549.1 L2918.2,2548.6 L2923.2,2548.1 L2928.2,2547.6 L2933.2,2547.1 L2938.2,2546.6 L2943.2,2546.1 L2948.2,2545.6 L2953.2,2545.1 L2958.2,2544.6 L2963.2,2544.1 L2968.2,2543.6 L2973.2,2542.9 L2978.2,2542.2 L2983.2,2541.5 L2988.2,2540.9 L2993.2,2540.2 L2998.2,2539.5 L3003.2,2538.8 L3008.2,2538.1 L3013.2,2537.4 L3018.2,2536.7 L3023.2,2536.0 L3028.2,2535.3 L3033.2,2534.5 L3038.2,2533.7 L3043.2,2533.0 L3048.2,2532.2 L3053.2,2531.4 L3058.2,2530.6 L3063.2,2529.8 L3068.2,2528.7 L3073.2,2527.3 L3078.2,2525.7 L3083.2,2524.2 L3088.2,2522.6 L3093.2,2521.1 L3098.2,2519.7 L3103.2,2518.6 L3108.2,2517.6 L3113.2,2516.6 L3118.2,2515.7 L3123.2,2514.8 L3128.2,2513.9 L3133.2,2513.0 L3138.2,2512.1 L3143.2,2511.2 L3148.2,2510.3 L3153.2,2509.4 L3158.2,2508.6 L3163.2,2507.8 L3168.2,2506.9 L3173.2,2505.9 L3178.2,2504.7 L3183.2,2503.6 L3188.2,2502.5 L3193.2,2501.4 L3198.2,2500.2 L3203.2,2499.1 L3208.2,2498.0 L3213.2,2496.7 L3218.2,2495.5 L3223.2,2494.2 L3228.2,2492.9 L3233.2,2491.6 L3238.2,2490.4 L3243.2,2489.1 L3248.2,2487.9 L3253.2,2486.7 L3258.2,2485.4 L3263.2,2484.2 L3268.2,2483.0 L3273.2,2481.7 L3278.2,2480.4 L3283.2,2479.1 L3288.2,2477.7 L3293.2,2476.4 L3298.2,2475.1 L3303.2,2473.7 L3308.2,2472.4 L3313.2,2471.1 L3318.2,2469.7 L3323.2,2468.5 L3328.2,2467.4 L3333.2,2466.4 L3338.2,2465.3 L3343.2,2464.2 L3348.2,2463.1 L3353.2,2462.0 L3358.2,2460.8 L3363.2,2459.6 L3368.2,2458.3 L3373.2,2457.1 L3378.2,2455.9 L3383.2,2454.7 L3388.2,2453.5 L3393.2,2452.3 L3398.2,2451.1 L3403.2,2449.8 L3408.2,2448.6 L3413.2,2447.3 L3418.2,2446.1 L3423.2,2444.8 L3428.2,2443.6 L3433.2,2442.3 L3438.2,2441.1 L3443.2,2440.0 L3448.2,2439.0 L3453.2,2438.1 L3458.2,2437.2 L3463.2,2436.3 L3468.2,2435.4 L3473.2,2434.5 L3478.2,2433.6 L3483.2,2432.7 L3488.2,2431.8 L3493.2,2431.0 L3498.2,2430.4 L3503.2,2429.8 L3508.2,2429.2 L3513.2,2428.6 L3518.2,2428.0 L3523.2,2427.4 L3528.2,2426.8 L3533.2,2426.1 L3538.2,2425.2 L3543.2,2424.4 L3548.2,2423.6 L3553.2,2422.7 L3558.2,2421.7 L3563.2,2420.7 L3568.2,2419.8 L3573.2,2418.8 L3578.2,2417.9 L3583.2,2416.9 L3588.2,2415.9 L3593.2,2415.0 L3598.2,2414.0 L3603.2,2413.0 L3608.2,2412.0 L3613.2,2410.8 L3618.2,2409.4 L3623.2,2407.9 L3628.2,2406.5 L3633.2,2405.0 L3638.2,2403.6 L3643.2,2402.1 L3648.2,2400.6 L3653.2,2399.0 L3658.2,2397.2 L3663.2,2395.5 L3668.2,2393.7 L3673.2,2392.0 L3678.2,2390.3 L3683.2,2388.6 L3688.2,2386.7 L3693.2,2384.7 L3698.2,2382.6 L3703.2,2380.6 L3708.2,2378.7 L3713.2,2377.1 L3718.2,2375.6 L3723.2,2374.1 L3728.2,2372.8 L3733.2,2371.6 L3738.2,2370.6 L3743.2,2369.5 L3748.2,2368.5 L3753.2,2367.4 L3758.2,2366.3 L3763.2,2365.1 L3768.2,2363.8 L3773.2,2362.6 L3778.2,2361.5 L3783.2,2360.7 L3788.2,2360.2 L3793.2,2359.6 L3798.2,2359.0 L3803.2,2358.2 L3808.2,2357.2 L3813.2,2356.1 L3818.2,2355.0 L3823.2,2353.8 L3828.2,2352.5 L3833.2,2350.9 L3838.2,2348.8 L3843.2,2346.2 L3848.2,2343.3 L3853.2,2340.4 L3858.2,2337.6 L3863.2,2335.0 L3868.2,2332.7 L3873.2,2330.4 L3878.2,2328.0 L3883.2,2325.6 L3888.2,2323.2 L3893.2,2320.7 L3898.2,2318.3 L3903.2,2315.8 L3908.2,2313.4 L3913.2,2311.0 L3918.2,2308.7 L3923.2,2306.5 L3928.2,2304.2 L3933.2,2301.8 L3938.2,2299.4 L3943.2,2297.1 L3948.2,2294.7 L3953.2,2292.3 L3958.2,2290.0 L3963.2,2288.0 L3968.2,2286.3 L3973.2,2284.8 L3978.2,2283.3 L3983.2,2281.8 L3988.2,2280.3 L3993.2,2278.8 L3998.2,2277.3 L4003.2,2275.5 L4008.2,2273.2 L4013.2,2270.7 L4018.2,2268.2 L4023.2,2265.5 L4028.2,2262.1 L4033.2,2258.4 L4038.2,2254.8 L4043.2,2251.4 L4048.2,2248.8 L4053.2,2246.7 L4058.2,2244.5 L4063.2,2242.4 L4068.2,2240.3 L4073.2,2238.4 L4078.2,2236.5 L4083.2,2234.6 L4088.2,2232.7 L4093.2,2230.8 L4098.2,2228.8 L4103.2,2226.5 L4108.2,2223.9 L4113.2,2221.3 L4118.2,2218.8 L4123.2,2216.4 L4128.2,2214.1 L4133.2,2211.6 L4138.2,2209.1 L4142.8,2206.5" fill="none" stroke="#238223" stroke-width="2.78" stroke-linejoin="round"/>
<path d="M438.2,2787.0 L443.2,2783.5 L448.2,2780.0 L453.2,2776.5 L458.2,2773.0 L463.2,2769.5 L468.2,2765.8 L473.2,2761.7 L478.2,2757.5 L483.2,2753.2 L488.2,2748.7 L493.2,2743.7 L498.2,2738.5 L503.2,2733.4 L508.2,2728.2 L513.2,2723.1 L518.2,2718.1 L523.2,2713.4 L528.2,2708.7 L533.2,2703.7 L538.2,2698.5 L543.2,2693.3 L548.2,2688.1 L553.2,2683.0 L558.2,2678.1 L563.2,2673.2 L568.2,2668.3 L573.2,2663.4 L578.2,2658.6 L583.2,2653.7 L588.2,2648.8 L593.2,2643.7 L598.2,2638.5 L603.2,2633.3 L608.2,2628.1 L613.2,2622.8 L618.2,2617.5 L623.2,2612.2 L628.2,2606.8 L633.2,2601.5 L638.2,2596.2 L643.2,2591.0 L648.2,2586.0 L653.2,2581.0 L658.2,2576.0 L663.2,2571.1 L668.2,2566.2 L673.2,2561.3 L678.2,2556.4 L683.2,2551.5 L688.2,2546.7 L693.2,2542.2 L698.2,2538.2 L703.2,2534.3 L708.2,2530.5 L713.2,2526.6 L718.2,2522.8 L723.2,2518.9 L728.2,2514.9 L733.2,2510.8 L738.2,2506.8 L743.2,2502.7 L748.2,2498.8 L753.2,2495.6 L758.2,2493.1 L763.2,2491.0 L768.2,2489.0 L773.2,2487.3 L778.2,2485.8 L783.2,2484.2 L788.2,2482.6 L793.2,2481.1 L798.2,2479.5 L803.2,2477.8 L808.2,2475.8 L813.2,2473.6 L818.2,2471.3 L823.2,2469.0 L828.2,2466.6 L833.2,2463.9 L838.2,2460.9 L843.2,2457.8 L848.2,2454.8 L853.2,2452.1 L858.2,2449.5 L863.2,2447.0 L868.2,2444.5 L873.2,2442.0 L878.2,2439.5 L883.2,2437.0 L888.2,2434.4 L893.2,2431.8 L898.2,2429.1 L903.2,2426.5 L908.2,2423.9 L913.2,2421.3 L918.2,2418.7 L923.2,2416.0 L928.2,2413.4 L933.2,2410.8 L938.2,2408.2 L943.2,2405.5 L948.2,2402.7 L953.2,2400.0 L958.2,2397.2 L963.2,2394.5 L968.2,2391.6 L973.2,2388.5 L978.2,2385.4 L983.2,2382.3 L988.2,2379.3 L993.2,2376.7 L998.2,2374.3 L1003.2,2371.9 L1008.2,2369.5 L1013.2,2367.1 L1018.2,2364.8 L1023.2,2362.5 L1028.2,2360.5 L1033.2,2359.0 L1038.2,2357.5 L1043.2,2356.1 L1048.2,2354.4 L1053.2,2352.3 L1058.2,2350.2 L1063.2,2348.0 L1068.2,2345.9 L1073.2,2344.0 L1078.2,2342.2 L1083.2,2340.4 L1088.2,2338.6 L1093.2,2336.8 L1098.2,2335.0 L1103.2,2333.2 L1108.2,2331.4 L1113.2,2329.5 L1118.2,2327.7 L1123.2,2325.8 L1128.2,2323.9 L1133.2,2321.9 L1138.2,2320.0 L1143.2,2318.0 L1148.2,2316.1 L1153.2,2314.1 L1158.2,2312.1 L1163.2,2310.0 L1168.2,2307.9 L1173.2,2305.8 L1178.2,2303.6 L1183.2,2301.5 L1188.2,2299.5 L1193.2,2297.7 L1198.2,2296.1 L1203.2,2294.6 L1208.2,2293.1 L1213.2,2291.7 L1218.2,2290.3 L1223.2,2289.1 L1228.2,2288.0 L1233.2,2286.8 L1238.2,2285.6 L1243.2,2284.5 L1248.2,2283.3 L1253.2,2282.2 L1258.2,2281.1 L1263.2,2280.0 L1268.2,2278.8 L1273.2,2277.5 L1278.2,2276.2 L1283.2,2274.8 L1288.2,2273.5 L1293.2,2272.1 L1298.2,2270.7 L1303.2,2269.4 L1308.2,2268.1 L1313.2,2266.7 L1318.2,2265.4 L1323.2,2264.0 L1328.2,2262.7 L1333.2,2261.4 L1338.2,2260.1 L1343.2,2258.9 L1348.2,2257.6 L1353.2,2256.2 L1358.2,2254.7 L1363.2,2253.2 L1368.2,2251.6 L1373.2,2250.1 L1378.2,2248.5 L1383.2,2247.0 L1388.2,2245.4 L1393.2,2243.9 L1398.2,2242.3 L1403.2,2240.7 L1408.2,2239.1 L1413.2,2237.4 L1418.2,2235.6 L1423.2,2233.9 L1428.2,2232.2 L1433.2,2230.0 L1438.2,2227.1 L1443.2,2223.9 L1448.2,2220.8 L1453.2,2217.7 L1458.2,2214.6 L1463.2,2211.6 L1468.2,2208.5 L1473.2,2205.7 L1478.2,2203.4 L1483.2,2201.6 L1488.2,2199.8 L1493.2,2198.1 L1498.2,2196.3 L1503.2,2194.6 L1508.2,2192.8 L1513.2,2191.1 L1518.2,2189.4 L1523.2,2187.6 L1528.2,2185.9 L1533.2,2184.2 L1538.2,2182.4 L1543.2,2180.8 L1548.2,2179.5 L1553.2,2178.5 L1558.2,2177.6 L1563.2,2176.8 L1568.2,2175.9 L1573.2,2175.0 L1578.2,2173.9 L1583.2,2172.7 L1588.2,2171.4 L1593.2,2170.1 L1598.2,2168.9 L1603.2,2167.6 L1608.2,2166.3 L1613.2,2165.1 L1618.2,2163.8 L1623.2,2162.6 L1628.2,2161.3 L1633.2,2160.1 L1638.2,2158.8 L1643.2,2157.5 L1648.2,2156.2 L1653.2,2154.8 L1658.2,2153.5 L1663.2,2152.1 L1668.2,2150.8 L1673.2,2149.5 L1678.2,2148.2 L1683.2,2147.1 L1688.2,2146.1 L1693.2,2145.1 L1698.2,2144.1 L1703.2,2143.1 L1708.2,2142.1 L1713.2,2141.1 L1718.2,2140.1 L1723.2,2139.1 L1728.2,2138.1 L1733.2,2137.1 L1738.2,2136.0 L1743.2,2135.0 L1748.2,2133.9 L1753.2,2132.7 L1758.2,2131.4 L1763.2,2130.1 L1768.2,2128.9 L1773.2,2127.6 L1778.2,2126.3 L1783.2,2125.1 L1788.2,2123.9 L1793.2,2122.7 L1798.2,2121.6 L1803.2,2120.4 L1808.2,2119.2 L1813.2,2118.0 L1818.2,2116.9 L1823.2,2115.7 L1828.2,2114.5 L1833.2,2113.4 L1838.2,2112.3 L1843.2,2111.2 L1848.2,2110.1 L1853.2,2109.1 L1858.2,2108.0 L1863.2,2106.9 L1868.2,2105.8 L1873.2,2104.8 L1878.2,2103.8 L1883.2,2102.9 L1888.2,2102.1 L1893.2,2101.4 L1898.2,2100.7 L1903.2,2100.2 L1908.2,2099.9 L1913.2,2099.5 L1918.2,2099.2 L1923.2,2098.9 L1928.2,2098.6 L1933.2,2098.4 L1938.2,2098.2 L1943.2,2098.0 L1948.2,2097.8 L1953.2,2097.7 L1958.2,2097.5 L1963.2,2097.3 L1968.2,2097.1 L1973.2,2097.0 L1978.2,2096.7 L1983.2,2096.5 L1988.2,2096.2 L1993.2,2096.0 L1998.2,2095.7 L2003.2,2095.4 L2008.2,2095.2 L2013.2,2094.9 L2018.2,2094.7 L2023.2,2094.4 L2028.2,2094.1 L2033.2,2093.6 L2038.2,2093.0 L2043.2,2092.4 L2048.2,2091.7 L2053.2,2091.0 L2058.2,2090.4 L2063.2,2089.7 L2068.2,2089.0 L2073.2,2088.4 L2078.2,2087.7 L2083.2,2087.0 L2088.2,2086.4 L2093.2,2085.7 L2098.2,2085.0 L2103.2,2084.4 L2108.2,2083.7 L2113.2,2083.2 L2118.2,2082.7 L2123.2,2082.2 L2128.2,2081.7 L2133.2,2081.2 L2138.2,2080.7 L2143.2,2080.2 L2148.2,2079.7 L2153.2,2079.0 L2158.2,2077.8 L2163.2,2076.1 L2168.2,2074.2 L2173.2,2072.2 L2178.2,2070.1 L2183.2,2068.3 L2188.2,2067.1 L2193.2,2066.3 L2198.2,2065.6 L2203.2,2064.7 L2208.2,2063.3 L2213.2,2061.7 L2218.2,2060.0 L2223.2,2058.2 L2228.2,2056.2 L2233.2,2054.0 L2238.2,2051.8 L2243.2,2049.6 L2248.2,2047.6 L2253.2,2045.9 L2258.2,2044.6 L2263.2,2043.6 L2268.2,2042.6 L2273.2,2041.5 L2278.2,2040.0 L2283.2,2038.2 L2288.2,2036.2 L2293.2,2034.1 L2298.2,2031.9 L2303.2,2029.7 L2308.2,2027.4 L2313.2,2025.2 L2318.2,2022.9 L2323.2,2020.5 L2328.2,2018.2 L2333.2,2016.1 L2338.2,2014.5 L2343.2,2013.4 L2348.2,2011.9 L2353.2,2009.7 L2358.2,2007.2 L2363.2,2004.7 L2368.2,2002.2 L2373.2,1999.8 L2378.2,1997.4 L2383.2,1995.0 L2388.2,1992.6 L2393.2,1990.3 L2398.2,1988.5 L2403.2,1987.2 L2408.2,1986.2 L2413.2,1985.2 L2418.2,1983.8 L2423.2,1982.0 L2428.2,1979.9 L2433.2,1977.3 L2438.2,1974.6 L2443.2,1971.8 L2448.2,1969.0 L2453.2,1966.3 L2458.2,1963.5 L2463.2,1960.7 L2468.2,1958.0 L2473.2,1955.2 L2478.2,1952.5 L2483.2,1949.8 L2488.2,1947.1 L2493.2,1944.4 L2498.2,1941.7 L2503.2,1938.9 L2508.2,1936.1 L2513.2,1933.1 L2518.2,1930.2 L2523.2,1927.2 L2528.2,1924.4 L2533.2,1921.9 L2538.2,1919.4 L2543.2,1917.1 L2548.2,1914.7 L2553.2,1912.3 L2558.2,1909.9 L2563.2,1907.5 L2568.2,1905.2 L2573.2,1902.8 L2578.2,1900.3 L2583.2,1897.8 L2588.2,1895.3 L2593.2,1892.8 L2598.2,1890.3 L2603.2,1887.8 L2608.2,1885.5 L2613.2,1883.4 L2618.2,1881.5 L2623.2,1879.7 L2628.2,1877.7 L2633.2,1875.4 L2638.2,1872.7 L2643.2,1869.5 L2648.2,1865.9 L2653.2,1862.2 L2658.2,1858.5 L2663.2,1854.9 L2668.2,1851.3 L2673.2,1847.6 L2678.2,1844.0 L2683.2,1840.4 L2688.2,1836.8 L2693.2,1833.1 L2698.2,1829.5 L2703.2,1825.7 L2708.2,1821.8 L2713.2,1817.9 L2718.2,1814.0 L2723.2,1810.1 L2728.2,1806.6 L2733.2,1804.1 L2738.2,1802.3 L2743.2,1800.8 L2748.2,1799.3 L2753.2,1797.8 L2758.2,1796.3 L2763.2,1794.8 L2768.2,1793.2 L2773.2,1790.9 L2778.2,1787.8 L2783.2,1784.2 L2788.2,1780.3 L2793.2,1776.3 L2798.2,1772.3 L2803.2,1768.3 L2808.2,1764.3 L2813.2,1760.3 L2818.2,1756.3 L2823.2,1752.3 L2828.2,1748.3 L2833.2,1744.7 L2838.2,1741.5 L2843.2,1738.5 L2848.2,1735.5 L2853.2,1732.5 L2858.2,1729.5 L2863.2,1726.5 L2868.2,1723.5 L2873.2,1720.4 L2878.2,1717.3 L2883.2,1714.1 L2888.2,1710.9 L2893.2,1707.8 L2898.2,1704.8 L2903.2,1702.1 L2908.2,1699.4 L2913.2,1696.6 L2918.2,1693.9 L2923.2,1691.3 L2928.2,1688.9 L2933.2,1686.7 L2938.2,1684.5 L2943.2,1682.1 L2948.2,1679.1 L2953.2,1675.5 L2958.2,1671.7 L2963.2,1667.9 L2968.2,1664.1 L2973.2,1660.4 L2978.2,1656.9 L2983.2,1653.5 L2988.2,1650.1 L2993.2,1646.7 L2998.2,1643.4 L3003.2,1639.9 L3008.2,1636.2 L3013.2,1632.2 L3018.2,1628.2 L3023.2,1624.2 L3028.2,1620.2 L3033.2,1616.5 L3038.2,1613.3 L3043.2,1610.6 L3048.2,1607.9 L3053.2,1605.2 L3058.2,1602.5 L3063.2,1599.9 L3068.2,1597.2 L3073.2,1594.6 L3078.2,1591.6 L3083.2,1588.0 L3088.2,1584.2 L3093.2,1580.4 L3098.2,1576.6 L3103.2,1572.8 L3108.2,1569.1 L3113.2,1565.5 L3118.2,1562.1 L3123.2,1559.1 L3128.2,1556.2 L3133.2,1553.3 L3138.2,1550.3 L3143.2,1547.4 L3148.2,1544.4 L3153.2,1541.5 L3158.2,1538.6 L3163.2,1535.8 L3168.2,1533.0 L3173.2,1530.2 L3178.2,1527.5 L3183.2,1524.6 L3188.2,1521.7 L3193.2,1518.7 L3198.2,1515.4 L3203.2,1511.7 L3208.2,1507.6 L3213.2,1503.4 L3218.2,1499.2 L3223.2,1495.1 L3228.2,1490.9 L3233.2,1486.7 L3238.2,1482.4 L3243.2,1478.1 L3248.2,1473.8 L3253.2,1469.5 L3258.2,1465.2 L3263.2,1461.2 L3268.2,1457.2 L3273.2,1453.2 L3278.2,1448.9 L3283.2,1444.6 L3288.2,1440.3 L3293.2,1435.8 L3298.2,1431.3 L3303.2,1426.8 L3308.2,1422.3 L3313.2,1417.7 L3318.2,1412.9 L3323.2,1408.2 L3328.2,1403.6 L3333.2,1399.1 L3338.2,1394.6 L3343.2,1390.2 L3348.2,1385.9 L3353.2,1381.7 L3358.2,1377.7 L3363.2,1373.5 L3368.2,1369.0 L3373.2,1364.2 L3378.2,1359.4 L3383.2,1354.6 L3388.2,1349.8 L3393.2,1345.0 L3398.2,1340.4 L3403.2,1336.1 L3408.2,1332.2 L3413.2,1328.1 L3418.2,1323.6 L3423.2,1318.9 L3428.2,1314.2 L3433.2,1309.5 L3438.2,1304.8 L3443.2,1300.1 L3448.2,1295.4 L3453.2,1290.7 L3458.2,1286.0 L3463.2,1281.4 L3468.2,1276.9 L3473.2,1272.5 L3478.2,1268.0 L3483.2,1263.5 L3488.2,1258.8 L3493.2,1254.0 L3498.2,1249.2 L3503.2,1244.2 L3508.2,1239.3 L3513.2,1234.3 L3518.2,1229.4 L3523.2,1225.0 L3528.2,1221.1 L3533.2,1217.5 L3538.2,1213.9 L3543.2,1210.4 L3548.2,1207.0 L3553.2,1203.7 L3558.2,1200.6 L3563.2,1197.5 L3568.2,1194.4 L3573.2,1191.4 L3578.2,1188.9 L3583.2,1186.5 L3588.2,1183.9 L3593.2,1181.0 L3598.2,1178.0 L3603.2,1175.0 L3608.2,1172.3 L3613.2,1169.8 L3618.2,1167.5 L3623.2,1165.1 L3628.2,1162.7 L3633.2,1160.4 L3638.2,1158.1 L3643.2,1156.0 L3648.2,1153.8 L3653.2,1151.6 L3658.2,1149.3 L3663.2,1146.8 L3668.2,1144.4 L3673.2,1142.0 L3678.2,1139.7 L3683.2,1137.4 L3688.2,1135.1 L3693.2,1132.7 L3698.2,1130.1 L3703.2,1127.4 L3708.2,1124.7 L3713.2,1122.0 L3718.2,1119.5 L3723.2,1117.2 L3728.2,1115.1 L3733.2,1112.9 L3738.2,1110.7 L3743.2,1108.6 L3748.2,1106.7 L3753.2,1104.9 L3758.2,1103.2 L3763.2,1101.6 L3768.2,1099.9 L3773.2,1098.1 L3778.2,1096.1 L3783.2,1094.1 L3788.2,1091.9 L3793.2,1089.8 L3798.2,1087.7 L3803.2,1085.6 L3808.2,1083.5 L3813.2,1081.6 L3818.2,1079.7 L3823.2,1077.9 L3828.2,1076.0 L3833.2,1074.1 L3838.2,1072.4 L3843.2,1070.6 L3848.2,1068.9 L3853.2,1067.0 L3858.2,1064.8 L3863.2,1062.4 L3868.2,1059.8 L3873.2,1057.0 L3878.2,1054.4 L3883.2,1051.9 L3888.2,1049.7 L3893.2,1047.3 L3898.2,1044.8 L3903.2,1042.2 L3908.2,1039.7 L3913.2,1037.1 L3918.2,1034.6 L3923.2,1032.0 L3928.2,1029.4 L3933.2,1026.7 L3938.2,1023.9 L3943.2,1021.1 L3948.2,1018.4 L3953.2,1015.7 L3958.2,1013.1 L3963.2,1010.5 L3968.2,1007.9 L3973.2,1005.4 L3978.2,1002.9 L3983.2,1000.4 L3988.2,997.9 L3993.2,995.4 L3998.2,992.8 L4003.2,990.2 L4008.2,987.4 L4013.2,984.7 L4018.2,982.1 L4023.2,979.6 L4028.2,977.3 L4033.2,975.4 L4038.2,973.8 L4043.2,972.5 L4048.2,971.1 L4053.2,969.7 L4058.2,968.0 L4063.2,966.2 L4068.2,964.4 L4073.2,962.7 L4078.2,961.3 L4083.2,959.9 L4088.2,958.5 L4093.2,957.1 L4098.2,955.4 L4103.2,953.5 L4108.2,951.7 L4113.2,949.9 L4118.2,948.0 L4123.2,946.1 L4128.2,944.1 L4133.2,942.0 L4138.2,939.9 L4142.8,937.9" fill="none" stroke="#165218" stroke-width="2.78" stroke-linejoin="round"/>
<path d="M438.2,2787.0 L443.2,2784.2 L448.2,2781.4 L453.2,2778.5 L458.2,2775.7 L463.2,2772.9 L468.2,2770.1 L473.2,2767.3 L478.2,2764.4 L483.2,2761.6 L488.2,2758.3 L493.2,2754.5 L498.2,2750.4 L503.2,2746.3 L508.2,2742.2 L513.2,2738.1 L518.2,2734.0 L523.2,2730.0 L528.2,2726.0 L533.2,2722.3 L538.2,2718.9 L543.2,2715.5 L548.2,2711.9 L553.2,2708.1 L558.2,2703.9 L563.2,2699.5 L568.2,2694.7 L573.2,2689.7 L578.2,2684.7 L583.2,2679.7 L588.2,2674.7 L593.2,2669.9 L598.2,2665.3 L603.2,2660.8 L608.2,2656.3 L613.2,2651.9 L618.2,2647.6 L623.2,2643.3 L628.2,2639.1 L633.2,2634.7 L638.2,2630.2 L643.2,2625.7 L648.2,2621.2 L653.2,2616.7 L658.2,2612.2 L663.2,2607.7 L668.2,2603.2 L673.2,2598.7 L678.2,2594.4 L683.2,2590.4 L688.2,2586.6 L693.2,2582.6 L698.2,2578.2 L703.2,2573.5 L708.2,2568.7 L713.2,2564.0 L718.2,2559.2 L723.2,2554.4 L728.2,2549.7 L733.2,2544.9 L738.2,2540.2 L743.2,2536.1 L748.2,2532.9 L753.2,2530.1 L758.2,2527.3 L763.2,2524.1 L768.2,2519.9 L773.2,2515.3 L778.2,2510.6 L783.2,2506.0 L788.2,2501.3 L793.2,2496.7 L798.2,2492.0 L803.2,2487.4 L808.2,2482.7 L813.2,2478.0 L818.2,2473.4 L823.2,2468.7 L828.2,2464.1 L833.2,2459.7 L838.2,2455.5 L843.2,2451.3 L848.2,2447.0 L853.2,2442.8 L858.2,2438.6 L863.2,2434.4 L868.2,2430.2 L873.2,2426.1 L878.2,2422.2 L883.2,2418.5 L888.2,2414.7 L893.2,2411.0 L898.2,2407.2 L903.2,2403.3 L908.2,2399.1 L913.2,2394.4 L918.2,2389.6 L923.2,2384.9 L928.2,2380.1 L933.2,2375.5 L938.2,2371.0 L943.2,2366.5 L948.2,2362.1 L953.2,2357.8 L958.2,2353.9 L963.2,2350.7 L968.2,2347.6 L973.2,2344.6 L978.2,2341.5 L983.2,2338.4 L988.2,2335.3 L993.2,2332.2 L998.2,2329.0 L1003.2,2325.9 L1008.2,2322.8 L1013.2,2319.8 L1018.2,2316.9 L1023.2,2314.1 L1028.2,2311.3 L1033.2,2308.5 L1038.2,2305.8 L1043.2,2303.3 L1048.2,2300.8 L1053.2,2298.3 L1058.2,2295.9 L1063.2,2293.7 L1068.2,2291.4 L1073.2,2289.1 L1078.2,2286.8 L1083.2,2284.3 L1088.2,2281.8 L1093.2,2279.4 L1098.2,2277.1 L1103.2,2275.1 L1108.2,2273.2 L1113.2,2271.3 L1118.2,2269.4 L1123.2,2267.3 L1128.2,2265.2 L1133.2,2263.1 L1138.2,2260.9 L1143.2,2258.7 L1148.2,2256.4 L1153.2,2254.2 L1158.2,2251.7 L1163.2,2248.9 L1168.2,2246.2 L1173.2,2244.1 L1178.2,2242.2 L1183.2,2240.4 L1188.2,2238.4 L1193.2,2235.8 L1198.2,2232.7 L1203.2,2229.5 L1208.2,2226.2 L1213.2,2222.5 L1218.2,2218.6 L1223.2,2214.8 L1228.2,2210.9 L1233.2,2207.1 L1238.2,2203.3 L1243.2,2199.7 L1248.2,2196.4 L1253.2,2193.2 L1258.2,2189.9 L1263.2,2186.5 L1268.2,2183.0 L1273.2,2179.5 L1278.2,2176.0 L1283.2,2172.5 L1288.2,2169.0 L1293.2,2165.5 L1298.2,2162.0 L1303.2,2158.5 L1308.2,2155.3 L1313.2,2152.6 L1318.2,2150.5 L1323.2,2148.6 L1328.2,2146.6 L1333.2,2144.6 L1338.2,2142.6 L1343.2,2140.6 L1348.2,2138.5 L1353.2,2136.5 L1358.2,2134.5 L1363.2,2132.5 L1368.2,2130.5 L1373.2,2128.5 L1378.2,2126.6 L1383.2,2124.8 L1388.2,2123.3 L1393.2,2122.1 L1398.2,2120.9 L1403.2,2119.8 L1408.2,2118.6 L1413.2,2117.4 L1418.2,2116.2 L1423.2,2115.0 L1428.2,2113.8 L1433.2,2112.6 L1438.2,2111.4 L1443.2,2110.1 L1448.2,2108.9 L1453.2,2107.6 L1458.2,2106.4 L1463.2,2105.1 L1468.2,2103.9 L1473.2,2102.6 L1478.2,2101.4 L1483.2,2100.1 L1488.2,2098.8 L1493.2,2097.5 L1498.2,2096.2 L1503.2,2094.8 L1508.2,2093.5 L1513.2,2092.2 L1518.2,2090.8 L1523.2,2089.5 L1528.2,2088.1 L1533.2,2086.8 L1538.2,2085.4 L1543.2,2084.2 L1548.2,2083.2 L1553.2,2082.2 L1558.2,2081.3 L1563.2,2080.4 L1568.2,2079.5 L1573.2,2078.5 L1578.2,2077.6 L1583.2,2076.7 L1588.2,2075.8 L1593.2,2074.8 L1598.2,2073.9 L1603.2,2072.9 L1608.2,2071.9 L1613.2,2070.9 L1618.2,2069.8 L1623.2,2068.8 L1628.2,2067.7 L1633.2,2066.7 L1638.2,2065.6 L1643.2,2064.6 L1648.2,2063.6 L1653.2,2062.5 L1658.2,2061.5 L1663.2,2060.4 L1668.2,2059.4 L1673.2,2058.6 L1678.2,2057.8 L1683.2,2057.1 L1688.2,2056.3 L1693.2,2055.0 L1698.2,2053.0 L1703.2,2050.6 L1708.2,2048.3 L1713.2,2045.8 L1718.2,2043.2 L1723.2,2040.4 L1728.2,2037.6 L1733.2,2034.8 L1738.2,2032.1 L1743.2,2029.8 L1748.2,2027.7 L1753.2,2025.6 L1758.2,2023.4 L1763.2,2020.8 L1768.2,2018.1 L1773.2,2015.3 L1778.2,2012.6 L1783.2,2009.8 L1788.2,2007.0 L1793.2,2004.2 L1798.2,2001.4 L1803.2,1998.6 L1808.2,1995.9 L1813.2,1993.3 L1818.2,1991.0 L1823.2,1988.7 L1828.2,1986.5 L1833.2,1984.3 L1838.2,1982.2 L1843.2,1980.2 L1848.2,1978.3 L1853.2,1976.3 L1858.2,1974.4 L1863.2,1972.5 L1868.2,1970.4 L1873.2,1968.0 L1878.2,1965.5 L1883.2,1963.0 L1888.2,1960.5 L1893.2,1958.2 L1898.2,1955.9 L1903.2,1953.6 L1908.2,1951.3 L1913.2,1949.0 L1918.2,1946.6 L1923.2,1944.1 L1928.2,1941.4 L1933.2,1938.8 L1938.2,1936.1 L1943.2,1933.5 L1948.2,1930.9 L1953.2,1928.3 L1958.2,1925.7 L1963.2,1923.1 L1968.2,1920.6 L1973.2,1918.3 L1978.2,1916.2 L1983.2,1914.2 L1988.2,1912.3 L1993.2,1910.3 L1998.2,1908.3 L2003.2,1906.3 L2008.2,1904.1 L2013.2,1901.9 L2018.2,1899.7 L2023.2,1897.4 L2028.2,1895.2 L2033.2,1893.1 L2038.2,1891.0 L2043.2,1888.9 L2048.2,1886.8 L2053.2,1884.7 L2058.2,1882.6 L2063.2,1880.3 L2068.2,1878.0 L2073.2,1875.7 L2078.2,1873.4 L2083.2,1871.1 L2088.2,1868.9 L2093.2,1866.9 L2098.2,1865.1 L2103.2,1863.2 L2108.2,1861.4 L2113.2,1859.5 L2118.2,1857.5 L2123.2,1855.2 L2128.2,1852.9 L2133.2,1850.6 L2138.2,1848.2 L2143.2,1845.9 L2148.2,1843.6 L2153.2,1841.3 L2158.2,1839.1 L2163.2,1836.8 L2168.2,1834.6 L2173.2,1832.3 L2178.2,1830.1 L2183.2,1827.8 L2188.2,1825.6 L2193.2,1823.3 L2198.2,1821.0 L2203.2,1818.6 L2208.2,1816.1 L2213.2,1813.4 L2218.2,1810.6 L2223.2,1807.8 L2228.2,1804.9 L2233.2,1802.2 L2238.2,1799.9 L2243.2,1798.0 L2248.2,1796.1 L2253.2,1794.3 L2258.2,1792.5 L2263.2,1790.7 L2268.2,1789.0 L2273.2,1787.3 L2278.2,1785.5 L2283.2,1783.8 L2288.2,1782.0 L2293.2,1780.2 L2298.2,1778.5 L2303.2,1776.7 L2308.2,1774.9 L2313.2,1773.1 L2318.2,1771.3 L2323.2,1769.4 L2328.2,1767.0 L2333.2,1764.1 L2338.2,1761.0 L2343.2,1757.8 L2348.2,1754.7 L2353.2,1751.6 L2358.2,1748.5 L2363.2,1745.2 L2368.2,1741.9 L2373.2,1738.6 L2378.2,1735.3 L2383.2,1732.0 L2388.2,1728.8 L2393.2,1725.8 L2398.2,1723.0 L2403.2,1720.2 L2408.2,1717.4 L2413.2,1714.4 L2418.2,1711.3 L2423.2,1708.1 L2428.2,1704.9 L2433.2,1701.7 L2438.2,1698.5 L2443.2,1695.4 L2448.2,1692.4 L2453.2,1689.6 L2458.2,1686.7 L2463.2,1683.8 L2468.2,1680.8 L2473.2,1677.4 L2478.2,1673.8 L2483.2,1670.2 L2488.2,1666.5 L2493.2,1662.8 L2498.2,1659.0 L2503.2,1655.0 L2508.2,1651.0 L2513.2,1647.0 L2518.2,1643.2 L2523.2,1639.6 L2528.2,1636.2 L2533.2,1632.9 L2538.2,1629.4 L2543.2,1625.7 L2548.2,1621.8 L2553.2,1617.9 L2558.2,1613.9 L2563.2,1609.9 L2568.2,1605.6 L2573.2,1601.3 L2578.2,1597.1 L2583.2,1592.8 L2588.2,1588.7 L2593.2,1584.6 L2598.2,1580.6 L2603.2,1576.5 L2608.2,1572.7 L2613.2,1569.5 L2618.2,1566.6 L2623.2,1563.9 L2628.2,1561.1 L2633.2,1558.4 L2638.2,1555.6 L2643.2,1552.8 L2648.2,1550.0 L2653.2,1547.1 L2658.2,1544.3 L2663.2,1541.4 L2668.2,1538.4 L2673.2,1535.3 L2678.2,1532.3 L2683.2,1529.2 L2688.2,1526.2 L2693.2,1523.1 L2698.2,1520.0 L2703.2,1516.8 L2708.2,1513.7 L2713.2,1510.6 L2718.2,1507.6 L2723.2,1504.7 L2728.2,1501.9 L2733.2,1499.1 L2738.2,1496.2 L2743.2,1493.4 L2748.2,1490.5 L2753.2,1487.6 L2758.2,1484.6 L2763.2,1481.7 L2768.2,1478.9 L2773.2,1476.4 L2778.2,1474.1 L2783.2,1471.8 L2788.2,1469.6 L2793.2,1467.5 L2798.2,1465.3 L2803.2,1463.2 L2808.2,1461.0 L2813.2,1458.8 L2818.2,1456.3 L2823.2,1453.6 L2828.2,1450.9 L2833.2,1448.2 L2838.2,1445.5 L2843.2,1442.4 L2848.2,1439.0 L2853.2,1435.4 L2858.2,1431.8 L2863.2,1428.2 L2868.2,1424.6 L2873.2,1421.0 L2878.2,1417.6 L2883.2,1414.3 L2888.2,1411.1 L2893.2,1407.9 L2898.2,1404.6 L2903.2,1401.1 L2908.2,1397.4 L2913.2,1393.6 L2918.2,1389.9 L2923.2,1386.1 L2928.2,1382.4 L2933.2,1378.8 L2938.2,1375.8 L2943.2,1373.1 L2948.2,1370.4 L2953.2,1367.8 L2958.2,1365.2 L2963.2,1362.4 L2968.2,1359.4 L2973.2,1356.3 L2978.2,1353.3 L2983.2,1350.1 L2988.2,1346.9 L2993.2,1343.5 L2998.2,1340.0 L3003.2,1336.5 L3008.2,1333.0 L3013.2,1329.5 L3018.2,1326.0 L3023.2,1322.7 L3028.2,1319.8 L3033.2,1317.2 L3038.2,1314.5 L3043.2,1311.4 L3048.2,1308.1 L3053.2,1304.7 L3058.2,1301.2 L3063.2,1297.3 L3068.2,1293.1 L3073.2,1288.9 L3078.2,1284.9 L3083.2,1281.2 L3088.2,1277.6 L3093.2,1274.0 L3098.2,1270.5 L3103.2,1266.9 L3108.2,1263.5 L3113.2,1260.0 L3118.2,1256.6 L3123.2,1253.2 L3128.2,1249.7 L3133.2,1246.2 L3138.2,1242.8 L3143.2,1239.3 L3148.2,1236.0 L3153.2,1233.3 L3158.2,1231.1 L3163.2,1228.9 L3168.2,1226.7 L3173.2,1224.5 L3178.2,1222.4 L3183.2,1220.3 L3188.2,1218.1 L3193.2,1215.7 L3198.2,1213.0 L3203.2,1210.2 L3208.2,1207.4 L3213.2,1204.3 L3218.2,1201.2 L3223.2,1198.0 L3228.2,1195.0 L3233.2,1192.5 L3238.2,1190.2 L3243.2,1187.8 L3248.2,1185.4 L3253.2,1182.7 L3258.2,1179.8 L3263.2,1176.9 L3268.2,1174.0 L3273.2,1171.1 L3278.2,1168.3 L3283.2,1165.6 L3288.2,1162.8 L3293.2,1160.0 L3298.2,1157.2 L3303.2,1154.5 L3308.2,1151.9 L3313.2,1149.3 L3318.2,1146.7 L3323.2,1144.1 L3328.2,1141.5 L3333.2,1138.9 L3338.2,1136.2 L3343.2,1133.4 L3348.2,1130.4 L3353.2,1127.5 L3358.2,1124.6 L3363.2,1121.6 L3368.2,1118.7 L3373.2,1115.7 L3378.2,1112.7 L3383.2,1109.7 L3388.2,1106.7 L3393.2,1103.7 L3398.2,1100.7 L3403.2,1097.6 L3408.2,1094.4 L3413.2,1091.1 L3418.2,1087.9 L3423.2,1084.6 L3428.2,1081.4 L3433.2,1078.1 L3438.2,1075.1 L3443.2,1072.5 L3448.2,1070.4 L3453.2,1068.5 L3458.2,1066.6 L3463.2,1064.5 L3468.2,1061.9 L3473.2,1059.0 L3478.2,1056.1 L3483.2,1053.1 L3488.2,1050.2 L3493.2,1047.3 L3498.2,1044.3 L3503.2,1041.3 L3508.2,1038.3 L3513.2,1035.4 L3518.2,1032.7 L3523.2,1030.3 L3528.2,1028.0 L3533.2,1025.5 L3538.2,1022.5 L3543.2,1019.0 L3548.2,1015.2 L3553.2,1011.5 L3558.2,1007.8 L3563.2,1004.1 L3568.2,1000.4 L3573.2,996.9 L3578.2,993.5 L3583.2,990.2 L3588.2,986.9 L3593.2,983.5 L3598.2,980.2 L3603.2,976.9 L3608.2,973.7 L3613.2,970.4 L3618.2,967.2 L3623.2,963.8 L3628.2,960.0 L3633.2,956.1 L3638.2,952.2 L3643.2,948.2 L3648.2,944.3 L3653.2,940.4 L3658.2,936.5 L3663.2,932.6 L3668.2,928.8 L3673.2,925.2 L3678.2,921.5 L3683.2,917.9 L3688.2,914.3 L3693.2,910.6 L3698.2,906.9 L3703.2,903.0 L3708.2,899.1 L3713.2,895.3 L3718.2,891.4 L3723.2,887.5 L3728.2,883.7 L3733.2,880.0 L3738.2,876.2 L3743.2,872.4 L3748.2,868.2 L3753.2,863.7 L3758.2,858.9 L3763.2,854.2 L3768.2,849.4 L3773.2,844.6 L3778.2,839.7 L3783.2,834.7 L3788.2,829.6 L3793.2,824.5 L3798.2,819.4 L3803.2,814.3 L3808.2,809.6 L3813.2,805.8 L3818.2,802.4 L3823.2,798.9 L3828.2,795.3 L3833.2,791.3 L3838.2,787.0 L3843.2,782.7 L3848.2,778.4 L3853.2,774.1 L3858.2,769.8 L3863.2,765.5 L3868.2,761.8 L3873.2,758.6 L3878.2,755.7 L3883.2,752.9 L3888.2,750.0 L3893.2,747.1 L3898.2,744.3 L3903.2,741.6 L3908.2,739.0 L3913.2,736.4 L3918.2,733.8 L3923.2,731.2 L3928.2,728.5 L3933.2,725.3 L3938.2,721.8 L3943.2,718.2 L3948.2,714.7 L3953.2,711.4 L3958.2,708.5 L3963.2,705.7 L3968.2,702.8 L3973.2,699.5 L3978.2,695.8 L3983.2,691.9 L3988.2,687.9 L3993.2,683.9 L3998.2,679.9 L4003.2,675.8 L4008.2,671.6 L4013.2,667.3 L4018.2,663.3 L4023.2,659.4 L4028.2,655.4 L4033.2,651.5 L4038.2,647.6 L4043.2,643.7 L4048.2,639.8 L4053.2,635.9 L4058.2,632.0 L4063.2,628.6 L4068.2,625.8 L4073.2,623.4 L4078.2,620.9 L4083.2,618.5 L4088.2,616.2 L4093.2,614.0 L4098.2,611.9 L4103.2,609.7 L4108.2,607.6 L4113.2,605.7 L4118.2,604.0 L4123.2,602.2 L4128.2,600.4 L4133.2,598.5 L4138.2,596.6 L4142.8,594.8" fill="none" stroke="#7b82dc" stroke-width="2.78" stroke-linejoin="round"/>
<path d="M438.2,2787.0 L443.2,2785.4 L448.2,2783.8 L453.2,2782.2 L458.2,2780.6 L463.2,2779.0 L468.2,2777.5 L473.2,2776.1 L478.2,2774.7 L483.2,2773.4 L488.2,2772.1 L493.2,2770.7 L498.2,2769.4 L503.2,2768.0 L508.2,2766.7 L513.2,2765.3 L518.2,2763.8 L523.2,2762.1 L528.2,2760.2 L533.2,2758.3 L538.2,2756.5 L543.2,2754.6 L548.2,2752.5 L553.2,2750.1 L558.2,2747.5 L563.2,2744.9 L568.2,2742.3 L573.2,2739.7 L578.2,2737.1 L583.2,2734.4 L588.2,2731.8 L593.2,2728.9 L598.2,2726.0 L603.2,2723.1 L608.2,2720.2 L613.2,2717.0 L618.2,2713.7 L623.2,2710.3 L628.2,2706.9 L633.2,2703.7 L638.2,2700.8 L643.2,2698.0 L648.2,2695.3 L653.2,2692.9 L658.2,2690.7 L663.2,2688.6 L668.2,2686.6 L673.2,2684.5 L678.2,2682.2 L683.2,2679.9 L688.2,2677.6 L693.2,2675.3 L698.2,2673.0 L703.2,2670.7 L708.2,2668.4 L713.2,2666.1 L718.2,2663.8 L723.2,2661.5 L728.2,2659.2 L733.2,2656.9 L738.2,2654.6 L743.2,2652.3 L748.2,2650.0 L753.2,2647.7 L758.2,2645.4 L763.2,2643.1 L768.2,2640.7 L773.2,2638.3 L778.2,2636.0 L783.2,2633.6 L788.2,2631.3 L793.2,2629.3 L798.2,2627.9 L803.2,2626.8 L808.2,2625.7 L813.2,2624.5 L818.2,2623.4 L823.2,2622.2 L828.2,2621.1 L833.2,2619.9 L838.2,2618.7 L843.2,2617.5 L848.2,2616.3 L853.2,2614.8 L858.2,2613.2 L863.2,2611.6 L868.2,2610.0 L873.2,2608.4 L878.2,2606.8 L883.2,2605.2 L888.2,2603.6 L893.2,2602.0 L898.2,2600.4 L903.2,2598.7 L908.2,2596.8 L913.2,2594.8 L918.2,2592.7 L923.2,2590.6 L928.2,2588.5 L933.2,2586.4 L938.2,2584.3 L943.2,2582.2 L948.2,2580.1 L953.2,2578.0 L958.2,2575.9 L963.2,2573.8 L968.2,2571.7 L973.2,2569.5 L978.2,2567.5 L983.2,2565.7 L988.2,2564.0 L993.2,2562.4 L998.2,2560.7 L1003.2,2559.1 L1008.2,2557.5 L1013.2,2555.9 L1018.2,2554.3 L1023.2,2552.7 L1028.2,2551.4 L1033.2,2550.4 L1038.2,2549.5 L1043.2,2548.5 L1048.2,2547.2 L1053.2,2545.5 L1058.2,2543.5 L1063.2,2541.6 L1068.2,2539.6 L1073.2,2537.7 L1078.2,2535.8 L1083.2,2533.8 L1088.2,2531.9 L1093.2,2529.9 L1098.2,2527.6 L1103.2,2525.2 L1108.2,2522.7 L1113.2,2520.2 L1118.2,2517.8 L1123.2,2515.4 L1128.2,2513.1 L1133.2,2510.8 L1138.2,2508.3 L1143.2,2505.6 L1148.2,2502.6 L1153.2,2499.7 L1158.2,2496.8 L1163.2,2493.8 L1168.2,2490.9 L1173.2,2488.0 L1178.2,2485.2 L1183.2,2482.8 L1188.2,2480.6 L1193.2,2478.5 L1198.2,2476.3 L1203.2,2474.1 L1208.2,2472.0 L1213.2,2469.8 L1218.2,2467.4 L1223.2,2465.0 L1228.2,2462.4 L1233.2,2459.8 L1238.2,2457.0 L1243.2,2454.1 L1248.2,2451.5 L1253.2,2449.3 L1258.2,2447.3 L1263.2,2445.5 L1268.2,2443.5 L1273.2,2441.4 L1278.2,2439.2 L1283.2,2436.9 L1288.2,2434.6 L1293.2,2432.3 L1298.2,2429.9 L1303.2,2427.2 L1308.2,2424.4 L1313.2,2421.7 L1318.2,2419.0 L1323.2,2416.6 L1328.2,2414.4 L1333.2,2412.4 L1338.2,2410.5 L1343.2,2408.8 L1348.2,2407.0 L1353.2,2405.0 L1358.2,2402.6 L1363.2,2400.1 L1368.2,2397.6 L1373.2,2395.1 L1378.2,2392.6 L1383.2,2390.3 L1388.2,2388.2 L1393.2,2386.2 L1398.2,2384.2 L1403.2,2381.9 L1408.2,2379.2 L1413.2,2376.6 L1418.2,2374.2 L1423.2,2372.0 L1428.2,2369.8 L1433.2,2367.7 L1438.2,2365.5 L1443.2,2363.3 L1448.2,2361.1 L1453.2,2359.0 L1458.2,2357.1 L1463.2,2355.3 L1468.2,2353.6 L1473.2,2351.9 L1478.2,2350.2 L1483.2,2348.5 L1488.2,2346.9 L1493.2,2345.1 L1498.2,2343.3 L1503.2,2341.4 L1508.2,2339.4 L1513.2,2337.5 L1518.2,2335.5 L1523.2,2333.2 L1528.2,2330.8 L1533.2,2328.3 L1538.2,2326.1 L1543.2,2324.0 L1548.2,2321.9 L1553.2,2319.8 L1558.2,2317.7 L1563.2,2315.5 L1568.2,2313.1 L1573.2,2310.7 L1578.2,2308.3 L1583.2,2305.9 L1588.2,2303.5 L1593.2,2301.0 L1598.2,2298.6 L1603.2,2296.1 L1608.2,2293.7 L1613.2,2291.2 L1618.2,2288.7 L1623.2,2286.1 L1628.2,2283.5 L1633.2,2280.7 L1638.2,2277.8 L1643.2,2275.0 L1648.2,2272.4 L1653.2,2270.0 L1658.2,2267.8 L1663.2,2265.5 L1668.2,2263.3 L1673.2,2261.0 L1678.2,2258.8 L1683.2,2256.5 L1688.2,2254.1 L1693.2,2251.5 L1698.2,2248.9 L1703.2,2246.3 L1708.2,2243.9 L1713.2,2241.7 L1718.2,2239.7 L1723.2,2237.8 L1728.2,2236.1 L1733.2,2234.7 L1738.2,2233.6 L1743.2,2232.4 L1748.2,2231.3 L1753.2,2230.1 L1758.2,2229.1 L1763.2,2228.1 L1768.2,2227.3 L1773.2,2226.5 L1778.2,2225.6 L1783.2,2224.8 L1788.2,2224.0 L1793.2,2223.2 L1798.2,2222.4 L1803.2,2221.7 L1808.2,2220.9 L1813.2,2220.1 L1818.2,2219.5 L1823.2,2219.1 L1828.2,2218.8 L1833.2,2218.6 L1838.2,2218.3 L1843.2,2218.1 L1848.2,2217.9 L1853.2,2217.6 L1858.2,2217.3 L1863.2,2217.0 L1868.2,2216.6 L1873.2,2216.3 L1878.2,2215.9 L1883.2,2215.2 L1888.2,2214.5 L1893.2,2213.7 L1898.2,2212.9 L1903.2,2212.0 L1908.2,2211.2 L1913.2,2210.4 L1918.2,2209.5 L1923.2,2208.7 L1928.2,2207.9 L1933.2,2207.2 L1938.2,2206.7 L1943.2,2206.1 L1948.2,2205.5 L1953.2,2204.9 L1958.2,2204.3 L1963.2,2203.6 L1968.2,2202.7 L1973.2,2201.9 L1978.2,2201.2 L1983.2,2200.7 L1988.2,2200.2 L1993.2,2199.7 L1998.2,2199.3 L2003.2,2198.8 L2008.2,2198.2 L2013.2,2197.5 L2018.2,2196.8 L2023.2,2196.2 L2028.2,2195.5 L2033.2,2194.7 L2038.2,2193.6 L2043.2,2192.2 L2048.2,2190.5 L2053.2,2188.8 L2058.2,2187.1 L2063.2,2185.4 L2068.2,2183.6 L2073.2,2181.7 L2078.2,2179.7 L2083.2,2177.7 L2088.2,2175.8 L2093.2,2174.0 L2098.2,2172.5 L2103.2,2170.9 L2108.2,2169.3 L2113.2,2167.7 L2118.2,2166.0 L2123.2,2164.3 L2128.2,2162.5 L2133.2,2160.7 L2138.2,2158.6 L2143.2,2156.5 L2148.2,2154.4 L2153.2,2152.3 L2158.2,2150.4 L2163.2,2148.6 L2168.2,2146.8 L2173.2,2145.0 L2178.2,2143.2 L2183.2,2141.4 L2188.2,2139.6 L2193.2,2137.9 L2198.2,2136.4 L2203.2,2134.9 L2208.2,2132.9 L2213.2,2130.4 L2218.2,2127.9 L2223.2,2125.5 L2228.2,2123.2 L2233.2,2121.0 L2238.2,2118.8 L2243.2,2116.5 L2248.2,2114.0 L2253.2,2111.4 L2258.2,2108.7 L2263.2,2106.0 L2268.2,2103.3 L2273.2,2100.6 L2278.2,2097.9 L2283.2,2095.3 L2288.2,2092.9 L2293.2,2090.7 L2298.2,2088.5 L2303.2,2086.3 L2308.2,2084.2 L2313.2,2082.0 L2318.2,2079.7 L2323.2,2077.1 L2328.2,2074.3 L2333.2,2071.3 L2338.2,2068.4 L2343.2,2065.4 L2348.2,2062.4 L2353.2,2059.5 L2358.2,2056.5 L2363.2,2053.6 L2368.2,2050.6 L2373.2,2047.7 L2378.2,2044.7 L2383.2,2041.7 L2388.2,2038.5 L2393.2,2035.1 L2398.2,2031.6 L2403.2,2028.2 L2408.2,2024.8 L2413.2,2021.7 L2418.2,2018.7 L2423.2,2015.7 L2428.2,2012.7 L2433.2,2009.8 L2438.2,2007.0 L2443.2,2004.7 L2448.2,2002.5 L2453.2,2000.4 L2458.2,1998.0 L2463.2,1995.2 L2468.2,1992.2 L2473.2,1989.3 L2478.2,1986.3 L2483.2,1983.4 L2488.2,1980.4 L2493.2,1977.5 L2498.2,1974.5 L2503.2,1971.5 L2508.2,1968.4 L2513.2,1965.3 L2518.2,1962.2 L2523.2,1959.1 L2528.2,1955.9 L2533.2,1952.7 L2538.2,1949.4 L2543.2,1946.1 L2548.2,1942.7 L2553.2,1939.3 L2558.2,1935.8 L2563.2,1932.3 L2568.2,1928.8 L2573.2,1925.3 L2578.2,1921.8 L2583.2,1918.6 L2588.2,1915.6 L2593.2,1912.8 L2598.2,1910.1 L2603.2,1907.4 L2608.2,1904.8 L2613.2,1902.2 L2618.2,1899.5 L2623.2,1896.9 L2628.2,1894.4 L2633.2,1891.9 L2638.2,1889.6 L2643.2,1887.3 L2648.2,1885.0 L2653.2,1882.7 L2658.2,1880.4 L2663.2,1878.2 L2668.2,1875.8 L2673.2,1873.1 L2678.2,1870.0 L2683.2,1866.8 L2688.2,1863.6 L2693.2,1860.4 L2698.2,1857.2 L2703.2,1853.9 L2708.2,1850.6 L2713.2,1847.3 L2718.2,1843.9 L2723.2,1840.7 L2728.2,1837.7 L2733.2,1834.9 L2738.2,1832.1 L2743.2,1829.2 L2748.2,1826.0 L2753.2,1822.7 L2758.2,1819.5 L2763.2,1816.2 L2768.2,1813.0 L2773.2,1810.0 L2778.2,1807.0 L2783.2,1804.1 L2788.2,1801.1 L2793.2,1798.2 L2798.2,1795.4 L2803.2,1792.6 L2808.2,1789.9 L2813.2,1787.1 L2818.2,1784.3 L2823.2,1781.6 L2828.2,1778.8 L2833.2,1775.9 L2838.2,1772.9 L2843.2,1769.8 L2848.2,1766.7 L2853.2,1763.7 L2858.2,1760.8 L2863.2,1758.2 L2868.2,1755.7 L2873.2,1753.2 L2878.2,1750.7 L2883.2,1747.9 L2888.2,1744.8 L2893.2,1741.5 L2898.2,1738.2 L2903.2,1735.1 L2908.2,1732.3 L2913.2,1729.8 L2918.2,1727.3 L2923.2,1724.7 L2928.2,1721.8 L2933.2,1718.7 L2938.2,1715.7 L2943.2,1712.7 L2948.2,1710.0 L2953.2,1707.3 L2958.2,1704.6 L2963.2,1701.9 L2968.2,1699.2 L2973.2,1696.4 L2978.2,1693.4 L2983.2,1690.1 L2988.2,1686.8 L2993.2,1683.4 L2998.2,1680.1 L3003.2,1676.8 L3008.2,1673.4 L3013.2,1670.3 L3018.2,1667.4 L3023.2,1664.6 L3028.2,1661.8 L3033.2,1658.7 L3038.2,1655.4 L3043.2,1652.1 L3048.2,1648.7 L3053.2,1645.4 L3058.2,1642.1 L3063.2,1638.8 L3068.2,1635.8 L3073.2,1633.6 L3078.2,1631.5 L3083.2,1628.9 L3088.2,1625.6 L3093.2,1622.1 L3098.2,1618.8 L3103.2,1615.7 L3108.2,1612.8 L3113.2,1610.0 L3118.2,1607.2 L3123.2,1604.4 L3128.2,1601.5 L3133.2,1598.6 L3138.2,1595.6 L3143.2,1592.6 L3148.2,1589.6 L3153.2,1586.6 L3158.2,1583.5 L3163.2,1580.2 L3168.2,1577.0 L3173.2,1573.7 L3178.2,1570.6 L3183.2,1567.7 L3188.2,1564.9 L3193.2,1562.0 L3198.2,1559.2 L3203.2,1556.4 L3208.2,1553.5 L3213.2,1550.5 L3218.2,1547.4 L3223.2,1544.2 L3228.2,1541.1 L3233.2,1538.0 L3238.2,1534.8 L3243.2,1531.6 L3248.2,1528.3 L3253.2,1525.1 L3258.2,1521.8 L3263.2,1518.5 L3268.2,1515.3 L3273.2,1512.2 L3278.2,1509.3 L3283.2,1506.4 L3288.2,1503.6 L3293.2,1500.7 L3298.2,1497.8 L3303.2,1495.0 L3308.2,1491.9 L3313.2,1488.4 L3318.2,1484.4 L3323.2,1480.3 L3328.2,1476.3 L3333.2,1472.2 L3338.2,1468.2 L3343.2,1464.1 L3348.2,1460.1 L3353.2,1456.1 L3358.2,1452.1 L3363.2,1447.9 L3368.2,1443.8 L3373.2,1439.6 L3378.2,1435.4 L3383.2,1430.8 L3388.2,1425.9 L3393.2,1420.9 L3398.2,1415.8 L3403.2,1410.5 L3408.2,1405.1 L3413.2,1400.1 L3418.2,1395.7 L3423.2,1391.7 L3428.2,1387.6 L3433.2,1383.5 L3438.2,1379.5 L3443.2,1375.6 L3448.2,1371.8 L3453.2,1367.6 L3458.2,1362.8 L3463.2,1358.0 L3468.2,1353.1 L3473.2,1348.4 L3478.2,1344.2 L3483.2,1340.1 L3488.2,1336.0 L3493.2,1331.8 L3498.2,1327.3 L3503.2,1322.7 L3508.2,1318.0 L3513.2,1313.6 L3518.2,1309.6 L3523.2,1305.8 L3528.2,1302.1 L3533.2,1298.3 L3538.2,1294.4 L3543.2,1290.4 L3548.2,1286.4 L3553.2,1282.4 L3558.2,1278.5 L3563.2,1274.9 L3568.2,1271.8 L3573.2,1269.1 L3578.2,1266.5 L3583.2,1263.8 L3588.2,1260.5 L3593.2,1256.7 L3598.2,1252.9 L3603.2,1249.2 L3608.2,1245.6 L3613.2,1241.7 L3618.2,1237.3 L3623.2,1232.5 L3628.2,1227.4 L3633.2,1222.4 L3638.2,1217.4 L3643.2,1212.4 L3648.2,1207.4 L3653.2,1202.5 L3658.2,1198.1 L3663.2,1194.2 L3668.2,1190.3 L3673.2,1186.5 L3678.2,1182.7 L3683.2,1178.8 L3688.2,1174.7 L3693.2,1170.4 L3698.2,1166.1 L3703.2,1161.5 L3708.2,1156.8 L3713.2,1152.2 L3718.2,1147.8 L3723.2,1143.6 L3728.2,1139.3 L3733.2,1135.1 L3738.2,1130.9 L3743.2,1126.7 L3748.2,1122.4 L3753.2,1118.2 L3758.2,1113.9 L3763.2,1109.7 L3768.2,1105.2 L3773.2,1100.6 L3778.2,1096.3 L3783.2,1092.5 L3788.2,1089.3 L3793.2,1086.3 L3798.2,1083.3 L3803.2,1080.5 L3808.2,1077.8 L3813.2,1075.1 L3818.2,1072.3 L3823.2,1069.6 L3828.2,1066.8 L3833.2,1064.1 L3838.2,1061.5 L3843.2,1059.3 L3848.2,1057.3 L3853.2,1055.3 L3858.2,1053.2 L3863.2,1050.8 L3868.2,1048.3 L3873.2,1046.2 L3878.2,1044.3 L3883.2,1042.5 L3888.2,1040.6 L3893.2,1038.4 L3898.2,1036.0 L3903.2,1033.5 L3908.2,1031.0 L3913.2,1028.6 L3918.2,1026.2 L3923.2,1023.9 L3928.2,1021.7 L3933.2,1019.9 L3938.2,1018.3 L3943.2,1016.6 L3948.2,1014.8 L3953.2,1013.0 L3958.2,1011.1 L3963.2,1009.2 L3968.2,1007.4 L3973.2,1005.6 L3978.2,1003.7 L3983.2,1001.9 L3988.2,1000.1 L3993.2,998.3 L3998.2,996.4 L4003.2,994.6 L4008.2,992.7 L4013.2,990.5 L4018.2,988.3 L4023.2,986.0 L4028.2,983.7 L4033.2,981.1 L4038.2,978.5 L4043.2,975.8 L4048.2,973.1 L4053.2,970.5 L4058.2,968.0 L4063.2,965.6 L4068.2,963.3 L4073.2,961.2 L4078.2,959.4 L4083.2,957.6 L4088.2,955.8 L4093.2,954.1 L4098.2,952.3 L4103.2,950.4 L4108.2,948.4 L4113.2,946.3 L4118.2,944.3 L4123.2,942.2 L4128.2,940.1 L4133.2,938.0 L4138.2,936.0 L4142.8,934.0" fill="none" stroke="#4b55d2" stroke-width="2.78" stroke-linejoin="round"/>
<path d="M438.2,2787.0 L443.2,2784.8 L448.2,2782.6 L453.2,2780.4 L458.2,2778.2 L463.2,2776.0 L468.2,2773.7 L473.2,2771.5 L478.2,2769.3 L483.2,2767.1 L488.2,2764.9 L493.2,2762.7 L498.2,2760.5 L503.2,2758.4 L508.2,2756.3 L513.2,2754.2 L518.2,2752.2 L523.2,2750.6 L528.2,2749.4 L533.2,2748.4 L538.2,2747.3 L543.2,2745.8 L548.2,2743.7 L553.2,2740.8 L558.2,2737.2 L563.2,2733.4 L568.2,2729.4 L573.2,2725.4 L578.2,2721.4 L583.2,2717.3 L588.2,2713.2 L593.2,2709.0 L598.2,2704.9 L603.2,2700.7 L608.2,2696.4 L613.2,2691.7 L618.2,2686.8 L623.2,2681.8 L628.2,2676.9 L633.2,2672.2 L638.2,2667.8 L643.2,2663.6 L648.2,2659.3 L653.2,2655.0 L658.2,2651.1 L663.2,2647.6 L668.2,2644.4 L673.2,2641.4 L678.2,2638.1 L683.2,2634.3 L688.2,2629.6 L693.2,2624.8 L698.2,2620.0 L703.2,2615.2 L708.2,2610.4 L713.2,2605.7 L718.2,2601.3 L723.2,2597.0 L728.2,2592.7 L733.2,2588.4 L738.2,2584.1 L743.2,2579.8 L748.2,2575.5 L753.2,2571.1 L758.2,2566.6 L763.2,2562.0 L768.2,2557.4 L773.2,2552.7 L778.2,2548.1 L783.2,2543.5 L788.2,2538.9 L793.2,2534.3 L798.2,2529.7 L803.2,2525.0 L808.2,2520.4 L813.2,2515.8 L818.2,2511.2 L823.2,2506.5 L828.2,2501.9 L833.2,2497.2 L838.2,2492.6 L843.2,2488.0 L848.2,2483.3 L853.2,2478.6 L858.2,2473.9 L863.2,2469.2 L868.2,2464.5 L873.2,2459.9 L878.2,2455.2 L883.2,2450.6 L888.2,2446.2 L893.2,2441.8 L898.2,2437.4 L903.2,2433.1 L908.2,2428.7 L913.2,2424.4 L918.2,2420.0 L923.2,2415.6 L928.2,2411.3 L933.2,2407.0 L938.2,2402.8 L943.2,2398.5 L948.2,2394.3 L953.2,2390.1 L958.2,2386.0 L963.2,2382.0 L968.2,2378.1 L973.2,2374.2 L978.2,2370.3 L983.2,2366.5 L988.2,2362.6 L993.2,2358.8 L998.2,2355.2 L1003.2,2351.9 L1008.2,2348.8 L1013.2,2345.6 L1018.2,2342.4 L1023.2,2339.4 L1028.2,2337.0 L1033.2,2335.2 L1038.2,2333.7 L1043.2,2332.0 L1048.2,2329.9 L1053.2,2327.1 L1058.2,2323.7 L1063.2,2319.9 L1068.2,2315.8 L1073.2,2311.9 L1078.2,2308.6 L1083.2,2305.9 L1088.2,2303.5 L1093.2,2301.2 L1098.2,2299.0 L1103.2,2296.9 L1108.2,2294.9 L1113.2,2292.9 L1118.2,2290.9 L1123.2,2289.0 L1128.2,2287.2 L1133.2,2285.3 L1138.2,2283.2 L1143.2,2280.8 L1148.2,2278.3 L1153.2,2275.7 L1158.2,2273.1 L1163.2,2270.5 L1168.2,2267.6 L1173.2,2264.4 L1178.2,2261.1 L1183.2,2258.1 L1188.2,2255.0 L1193.2,2251.3 L1198.2,2247.2 L1203.2,2243.1 L1208.2,2239.5 L1213.2,2236.6 L1218.2,2233.9 L1223.2,2230.9 L1228.2,2227.5 L1233.2,2224.0 L1238.2,2220.3 L1243.2,2216.3 L1248.2,2212.1 L1253.2,2208.0 L1258.2,2203.8 L1263.2,2199.6 L1268.2,2195.4 L1273.2,2190.9 L1278.2,2186.2 L1283.2,2181.5 L1288.2,2177.0 L1293.2,2172.9 L1298.2,2169.0 L1303.2,2165.3 L1308.2,2161.5 L1313.2,2157.5 L1318.2,2153.4 L1323.2,2149.2 L1328.2,2145.0 L1333.2,2141.2 L1338.2,2137.9 L1343.2,2134.9 L1348.2,2132.0 L1353.2,2129.0 L1358.2,2126.2 L1363.2,2123.9 L1368.2,2122.1 L1373.2,2120.5 L1378.2,2118.9 L1383.2,2117.0 L1388.2,2114.8 L1393.2,2112.5 L1398.2,2110.2 L1403.2,2107.8 L1408.2,2105.5 L1413.2,2103.2 L1418.2,2100.9 L1423.2,2098.8 L1428.2,2096.8 L1433.2,2094.8 L1438.2,2092.8 L1443.2,2090.9 L1448.2,2089.0 L1453.2,2087.2 L1458.2,2085.3 L1463.2,2083.3 L1468.2,2081.0 L1473.2,2078.7 L1478.2,2076.3 L1483.2,2073.6 L1488.2,2070.4 L1493.2,2066.9 L1498.2,2063.4 L1503.2,2060.3 L1508.2,2058.0 L1513.2,2056.0 L1518.2,2054.1 L1523.2,2052.1 L1528.2,2050.2 L1533.2,2047.9 L1538.2,2044.8 L1543.2,2041.0 L1548.2,2037.1 L1553.2,2033.2 L1558.2,2029.5 L1563.2,2026.0 L1568.2,2022.9 L1573.2,2020.1 L1578.2,2017.7 L1583.2,2015.7 L1588.2,2013.8 L1593.2,2011.8 L1598.2,2009.8 L1603.2,2007.5 L1608.2,2005.0 L1613.2,2002.2 L1618.2,1999.3 L1623.2,1996.5 L1628.2,1994.2 L1633.2,1992.3 L1638.2,1990.7 L1643.2,1989.0 L1648.2,1987.4 L1653.2,1985.7 L1658.2,1984.0 L1663.2,1982.4 L1668.2,1980.7 L1673.2,1978.8 L1678.2,1976.6 L1683.2,1974.0 L1688.2,1971.4 L1693.2,1968.8 L1698.2,1966.1 L1703.2,1963.5 L1708.2,1961.0 L1713.2,1958.6 L1718.2,1956.3 L1723.2,1954.0 L1728.2,1951.7 L1733.2,1949.4 L1738.2,1946.7 L1743.2,1943.8 L1748.2,1940.8 L1753.2,1937.7 L1758.2,1934.7 L1763.2,1931.9 L1768.2,1929.2 L1773.2,1926.5 L1778.2,1923.8 L1783.2,1921.1 L1788.2,1918.6 L1793.2,1916.5 L1798.2,1914.5 L1803.2,1912.5 L1808.2,1910.5 L1813.2,1908.3 L1818.2,1906.1 L1823.2,1903.8 L1828.2,1901.6 L1833.2,1899.7 L1838.2,1897.8 L1843.2,1895.6 L1848.2,1893.1 L1853.2,1890.5 L1858.2,1887.9 L1863.2,1885.6 L1868.2,1883.5 L1873.2,1881.4 L1878.2,1879.2 L1883.2,1876.7 L1888.2,1873.9 L1893.2,1871.1 L1898.2,1868.3 L1903.2,1865.6 L1908.2,1862.9 L1913.2,1860.2 L1918.2,1857.5 L1923.2,1854.8 L1928.2,1852.3 L1933.2,1850.3 L1938.2,1848.6 L1943.2,1846.8 L1948.2,1845.0 L1953.2,1842.9 L1958.2,1840.3 L1963.2,1837.5 L1968.2,1834.7 L1973.2,1832.2 L1978.2,1830.0 L1983.2,1827.8 L1988.2,1825.7 L1993.2,1823.6 L1998.2,1821.4 L2003.2,1819.2 L2008.2,1816.7 L2013.2,1814.2 L2018.2,1811.7 L2023.2,1809.2 L2028.2,1806.7 L2033.2,1804.1 L2038.2,1801.5 L2043.2,1798.9 L2048.2,1796.4 L2053.2,1794.1 L2058.2,1792.0 L2063.2,1789.8 L2068.2,1787.7 L2073.2,1785.7 L2078.2,1783.9 L2083.2,1782.2 L2088.2,1780.5 L2093.2,1778.5 L2098.2,1776.2 L2103.2,1773.8 L2108.2,1771.4 L2113.2,1768.9 L2118.2,1766.5 L2123.2,1763.7 L2128.2,1760.8 L2133.2,1757.8 L2138.2,1754.8 L2143.2,1751.8 L2148.2,1748.9 L2153.2,1746.1 L2158.2,1743.3 L2163.2,1740.4 L2168.2,1737.4 L2173.2,1734.3 L2178.2,1731.2 L2183.2,1728.1 L2188.2,1724.9 L2193.2,1721.8 L2198.2,1718.7 L2203.2,1715.3 L2208.2,1711.5 L2213.2,1707.4 L2218.2,1703.3 L2223.2,1699.3 L2228.2,1695.5 L2233.2,1691.7 L2238.2,1687.9 L2243.2,1684.1 L2248.2,1680.2 L2253.2,1676.3 L2258.2,1672.6 L2263.2,1669.2 L2268.2,1665.9 L2273.2,1663.1 L2278.2,1661.7 L2283.2,1661.4 L2288.2,1661.4 L2293.2,1660.9 L2298.2,1659.0 L2303.2,1655.7 L2308.2,1651.9 L2313.2,1647.6 L2318.2,1643.1 L2323.2,1638.7 L2328.2,1634.4 L2333.2,1630.3 L2338.2,1626.2 L2343.2,1622.1 L2348.2,1618.1 L2353.2,1614.3 L2358.2,1610.9 L2363.2,1607.8 L2368.2,1604.6 L2373.2,1601.4 L2378.2,1598.2 L2383.2,1595.0 L2388.2,1591.7 L2393.2,1588.3 L2398.2,1584.8 L2403.2,1581.4 L2408.2,1577.9 L2413.2,1574.2 L2418.2,1570.4 L2423.2,1566.7 L2428.2,1562.9 L2433.2,1559.2 L2438.2,1555.5 L2443.2,1552.0 L2448.2,1548.5 L2453.2,1545.0 L2458.2,1541.5 L2463.2,1537.9 L2468.2,1534.2 L2473.2,1530.0 L2478.2,1525.8 L2483.2,1521.5 L2488.2,1517.3 L2493.2,1513.0 L2498.2,1508.7 L2503.2,1504.4 L2508.2,1500.1 L2513.2,1495.9 L2518.2,1491.7 L2523.2,1487.3 L2528.2,1482.7 L2533.2,1478.2 L2538.2,1473.7 L2543.2,1469.6 L2548.2,1465.6 L2553.2,1461.7 L2558.2,1457.7 L2563.2,1453.7 L2568.2,1449.6 L2573.2,1445.4 L2578.2,1441.3 L2583.2,1437.4 L2588.2,1433.7 L2593.2,1430.1 L2598.2,1426.4 L2603.2,1422.8 L2608.2,1419.2 L2613.2,1415.5 L2618.2,1411.6 L2623.2,1407.6 L2628.2,1403.5 L2633.2,1399.5 L2638.2,1395.5 L2643.2,1391.5 L2648.2,1387.7 L2653.2,1384.0 L2658.2,1380.2 L2663.2,1376.4 L2668.2,1372.5 L2673.2,1368.5 L2678.2,1364.6 L2683.2,1360.9 L2688.2,1357.4 L2693.2,1354.1 L2698.2,1350.7 L2703.2,1347.4 L2708.2,1344.0 L2713.2,1340.5 L2718.2,1336.9 L2723.2,1333.2 L2728.2,1329.5 L2733.2,1325.8 L2738.2,1322.1 L2743.2,1318.6 L2748.2,1315.0 L2753.2,1311.3 L2758.2,1307.4 L2763.2,1303.4 L2768.2,1299.4 L2773.2,1295.4 L2778.2,1291.4 L2783.2,1287.4 L2788.2,1283.6 L2793.2,1279.9 L2798.2,1276.2 L2803.2,1272.7 L2808.2,1269.4 L2813.2,1266.1 L2818.2,1262.8 L2823.2,1259.5 L2828.2,1256.2 L2833.2,1252.9 L2838.2,1249.6 L2843.2,1246.1 L2848.2,1242.3 L2853.2,1238.4 L2858.2,1234.6 L2863.2,1230.8 L2868.2,1227.1 L2873.2,1223.6 L2878.2,1219.9 L2883.2,1216.0 L2888.2,1211.9 L2893.2,1207.8 L2898.2,1203.7 L2903.2,1199.6 L2908.2,1195.9 L2913.2,1192.3 L2918.2,1188.8 L2923.2,1185.2 L2928.2,1181.7 L2933.2,1178.2 L2938.2,1174.9 L2943.2,1171.7 L2948.2,1168.5 L2953.2,1165.2 L2958.2,1161.6 L2963.2,1157.6 L2968.2,1153.5 L2973.2,1149.5 L2978.2,1145.4 L2983.2,1141.4 L2988.2,1137.4 L2993.2,1133.5 L2998.2,1129.6 L3003.2,1125.8 L3008.2,1122.4 L3013.2,1119.1 L3018.2,1115.4 L3023.2,1111.2 L3028.2,1106.7 L3033.2,1102.2 L3038.2,1097.9 L3043.2,1093.9 L3048.2,1090.0 L3053.2,1086.2 L3058.2,1082.4 L3063.2,1078.7 L3068.2,1075.4 L3073.2,1072.9 L3078.2,1071.0 L3083.2,1069.1 L3088.2,1067.1 L3093.2,1064.6 L3098.2,1061.9 L3103.2,1059.2 L3108.2,1056.4 L3113.2,1053.7 L3118.2,1051.0 L3123.2,1048.2 L3128.2,1045.2 L3133.2,1041.8 L3138.2,1038.4 L3143.2,1035.5 L3148.2,1032.9 L3153.2,1030.2 L3158.2,1027.4 L3163.2,1024.4 L3168.2,1021.3 L3173.2,1018.2 L3178.2,1015.3 L3183.2,1012.7 L3188.2,1010.2 L3193.2,1007.7 L3198.2,1005.2 L3203.2,1002.9 L3208.2,1000.9 L3213.2,999.2 L3218.2,997.4 L3223.2,995.6 L3228.2,993.4 L3233.2,990.6 L3238.2,987.4 L3243.2,984.0 L3248.2,980.3 L3253.2,976.4 L3258.2,972.5 L3263.2,968.6 L3268.2,964.7 L3273.2,960.8 L3278.2,957.0 L3283.2,953.6 L3288.2,950.2 L3293.2,946.9 L3298.2,943.5 L3303.2,939.8 L3308.2,935.9 L3313.2,932.0 L3318.2,928.0 L3323.2,923.7 L3328.2,919.2 L3333.2,914.6 L3338.2,910.1 L3343.2,905.8 L3348.2,902.0 L3353.2,898.3 L3358.2,894.6 L3363.2,891.0 L3368.2,887.2 L3373.2,883.2 L3378.2,879.1 L3383.2,874.9 L3388.2,870.8 L3393.2,866.6 L3398.2,862.5 L3403.2,858.5 L3408.2,854.4 L3413.2,850.3 L3418.2,846.3 L3423.2,842.6 L3428.2,839.2 L3433.2,835.8 L3438.2,832.5 L3443.2,829.0 L3448.2,825.0 L3453.2,820.6 L3458.2,816.2 L3463.2,811.7 L3468.2,807.3 L3473.2,802.8 L3478.2,798.4 L3483.2,794.0 L3488.2,789.7 L3493.2,785.3 L3498.2,781.0 L3503.2,776.9 L3508.2,773.1 L3513.2,769.7 L3518.2,766.3 L3523.2,762.8 L3528.2,759.4 L3533.2,755.9 L3538.2,752.3 L3543.2,748.7 L3548.2,745.2 L3553.2,741.6 L3558.2,738.1 L3563.2,734.7 L3568.2,731.4 L3573.2,728.0 L3578.2,724.6 L3583.2,721.2 L3588.2,717.7 L3593.2,714.0 L3598.2,710.2 L3603.2,706.4 L3608.2,702.6 L3613.2,699.0 L3618.2,695.4 L3623.2,691.8 L3628.2,688.2 L3633.2,684.7 L3638.2,681.5 L3643.2,678.5 L3648.2,675.7 L3653.2,672.7 L3658.2,669.2 L3663.2,665.4 L3668.2,661.4 L3673.2,657.5 L3678.2,653.9 L3683.2,650.6 L3688.2,647.4 L3693.2,644.4 L3698.2,641.6 L3703.2,639.4 L3708.2,637.3 L3713.2,635.2 L3718.2,633.1 L3723.2,631.0 L3728.2,628.9 L3733.2,626.9 L3738.2,624.8 L3743.2,622.7 L3748.2,620.7 L3753.2,618.6 L3758.2,616.3 L3763.2,613.8 L3768.2,611.4 L3773.2,609.0 L3778.2,606.8 L3783.2,604.6 L3788.2,602.3 L3793.2,600.0 L3798.2,597.4 L3803.2,594.5 L3808.2,591.5 L3813.2,588.8 L3818.2,586.3 L3823.2,583.8 L3828.2,581.3 L3833.2,578.8 L3838.2,576.1 L3843.2,573.2 L3848.2,570.1 L3853.2,567.0 L3858.2,564.1 L3863.2,561.6 L3868.2,559.2 L3873.2,556.8 L3878.2,554.4 L3883.2,552.1 L3888.2,549.8 L3893.2,548.0 L3898.2,546.4 L3903.2,544.8 L3908.2,543.3 L3913.2,541.9 L3918.2,540.4 L3923.2,539.0 L3928.2,537.6 L3933.2,536.2 L3938.2,534.7 L3943.2,533.1 L3948.2,531.4 L3953.2,529.6 L3958.2,527.9 L3963.2,526.1 L3968.2,524.3 L3973.2,522.6 L3978.2,521.0 L3983.2,519.5 L3988.2,518.0 L3993.2,516.5 L3998.2,515.0 L4003.2,513.5 L4008.2,512.0 L4013.2,510.3 L4018.2,508.5 L4023.2,506.6 L4028.2,504.7 L4033.2,502.8 L4038.2,501.0 L4043.2,499.0 L4048.2,497.0 L4053.2,495.0 L4058.2,492.9 L4063.2,490.9 L4068.2,488.9 L4073.2,486.9 L4078.2,484.9 L4083.2,483.0 L4088.2,481.0 L4093.2,479.1 L4098.2,477.1 L4103.2,475.1 L4108.2,473.1 L4113.2,471.1 L4118.2,469.1 L4123.2,467.2 L4128.2,465.4 L4133.2,463.5 L4138.2,461.8 L4142.8,460.1" fill="none" stroke="#2c35b2" stroke-width="2.78" stroke-linejoin="round"/>
<path d="M438.2,2787.0 L443.2,2784.8 L448.2,2782.5 L453.2,2780.3 L458.2,2778.0 L463.2,2775.8 L468.2,2773.6 L473.2,2771.3 L478.2,2769.1 L483.2,2766.8 L488.2,2764.5 L493.2,2761.9 L498.2,2759.2 L503.2,2756.6 L508.2,2753.9 L513.2,2751.3 L518.2,2748.6 L523.2,2745.7 L528.2,2742.8 L533.2,2739.9 L538.2,2736.9 L543.2,2734.0 L548.2,2731.0 L553.2,2728.0 L558.2,2725.0 L563.2,2722.2 L568.2,2719.5 L573.2,2716.8 L578.2,2714.1 L583.2,2711.5 L588.2,2709.2 L593.2,2707.1 L598.2,2704.9 L603.2,2702.7 L608.2,2700.5 L613.2,2698.3 L618.2,2696.1 L623.2,2693.8 L628.2,2691.5 L633.2,2689.3 L638.2,2687.0 L643.2,2684.8 L648.2,2682.5 L653.2,2679.9 L658.2,2677.1 L663.2,2674.1 L668.2,2671.2 L673.2,2668.2 L678.2,2665.3 L683.2,2662.3 L688.2,2659.3 L693.2,2656.4 L698.2,2653.4 L703.2,2650.4 L708.2,2647.5 L713.2,2644.5 L718.2,2641.5 L723.2,2638.1 L728.2,2634.4 L733.2,2630.6 L738.2,2626.7 L743.2,2622.8 L748.2,2619.0 L753.2,2615.1 L758.2,2611.3 L763.2,2607.4 L768.2,2603.6 L773.2,2600.1 L778.2,2597.0 L783.2,2594.1 L788.2,2591.3 L793.2,2588.4 L798.2,2585.6 L803.2,2582.5 L808.2,2579.0 L813.2,2575.2 L818.2,2571.4 L823.2,2567.5 L828.2,2563.6 L833.2,2559.8 L838.2,2555.9 L843.2,2552.0 L848.2,2548.2 L853.2,2544.2 L858.2,2540.1 L863.2,2535.8 L868.2,2531.5 L873.2,2527.2 L878.2,2522.9 L883.2,2518.6 L888.2,2514.2 L893.2,2509.9 L898.2,2505.6 L903.2,2501.4 L908.2,2497.4 L913.2,2493.6 L918.2,2489.9 L923.2,2486.2 L928.2,2482.4 L933.2,2478.7 L938.2,2474.9 L943.2,2471.2 L948.2,2467.4 L953.2,2463.6 L958.2,2459.8 L963.2,2455.9 L968.2,2452.0 L973.2,2448.1 L978.2,2444.5 L983.2,2441.3 L988.2,2438.2 L993.2,2435.1 L998.2,2432.3 L1003.2,2429.5 L1008.2,2426.9 L1013.2,2424.2 L1018.2,2421.1 L1023.2,2417.9 L1028.2,2415.1 L1033.2,2413.0 L1038.2,2411.2 L1043.2,2409.4 L1048.2,2407.0 L1053.2,2403.9 L1058.2,2400.5 L1063.2,2397.1 L1068.2,2393.9 L1073.2,2390.8 L1078.2,2387.8 L1083.2,2384.8 L1088.2,2381.8 L1093.2,2378.8 L1098.2,2375.8 L1103.2,2372.9 L1108.2,2370.1 L1113.2,2367.5 L1118.2,2365.0 L1123.2,2362.5 L1128.2,2360.0 L1133.2,2357.5 L1138.2,2355.0 L1143.2,2352.5 L1148.2,2349.9 L1153.2,2347.3 L1158.2,2344.7 L1163.2,2342.1 L1168.2,2339.6 L1173.2,2337.3 L1178.2,2335.0 L1183.2,2332.8 L1188.2,2330.5 L1193.2,2327.8 L1198.2,2324.9 L1203.2,2321.9 L1208.2,2318.7 L1213.2,2315.5 L1218.2,2312.3 L1223.2,2309.1 L1228.2,2305.9 L1233.2,2302.5 L1238.2,2298.8 L1243.2,2295.1 L1248.2,2291.4 L1253.2,2287.9 L1258.2,2284.6 L1263.2,2281.3 L1268.2,2278.2 L1273.2,2275.4 L1278.2,2272.7 L1283.2,2270.1 L1288.2,2267.5 L1293.2,2265.1 L1298.2,2262.8 L1303.2,2260.6 L1308.2,2258.4 L1313.2,2256.3 L1318.2,2254.0 L1323.2,2251.4 L1328.2,2248.6 L1333.2,2245.7 L1338.2,2242.9 L1343.2,2240.0 L1348.2,2237.1 L1353.2,2234.2 L1358.2,2231.1 L1363.2,2228.1 L1368.2,2225.1 L1373.2,2222.5 L1378.2,2220.0 L1383.2,2217.6 L1388.2,2215.2 L1393.2,2212.8 L1398.2,2210.3 L1403.2,2207.5 L1408.2,2204.5 L1413.2,2201.2 L1418.2,2197.7 L1423.2,2193.9 L1428.2,2190.2 L1433.2,2186.5 L1438.2,2183.1 L1443.2,2179.8 L1448.2,2176.6 L1453.2,2173.7 L1458.2,2170.8 L1463.2,2167.8 L1468.2,2164.4 L1473.2,2160.9 L1478.2,2157.3 L1483.2,2153.9 L1488.2,2150.8 L1493.2,2147.9 L1498.2,2145.0 L1503.2,2142.0 L1508.2,2139.1 L1513.2,2136.2 L1518.2,2133.2 L1523.2,2130.1 L1528.2,2126.6 L1533.2,2122.8 L1538.2,2119.1 L1543.2,2115.2 L1548.2,2111.4 L1553.2,2107.5 L1558.2,2103.6 L1563.2,2099.8 L1568.2,2095.9 L1573.2,2092.1 L1578.2,2088.5 L1583.2,2085.0 L1588.2,2081.6 L1593.2,2078.2 L1598.2,2074.8 L1603.2,2071.4 L1608.2,2068.0 L1613.2,2064.8 L1618.2,2061.7 L1623.2,2058.6 L1628.2,2055.5 L1633.2,2052.4 L1638.2,2049.3 L1643.2,2046.2 L1648.2,2043.2 L1653.2,2040.1 L1658.2,2037.1 L1663.2,2034.0 L1668.2,2031.1 L1673.2,2028.3 L1678.2,2025.5 L1683.2,2022.8 L1688.2,2020.0 L1693.2,2017.2 L1698.2,2013.9 L1703.2,2010.2 L1708.2,2006.5 L1713.2,2003.3 L1718.2,2000.3 L1723.2,1997.4 L1728.2,1994.5 L1733.2,1991.3 L1738.2,1988.0 L1743.2,1984.7 L1748.2,1981.4 L1753.2,1978.4 L1758.2,1975.8 L1763.2,1973.3 L1768.2,1970.8 L1773.2,1968.3 L1778.2,1966.3 L1783.2,1965.0 L1788.2,1964.1 L1793.2,1963.1 L1798.2,1961.8 L1803.2,1960.0 L1808.2,1958.0 L1813.2,1956.0 L1818.2,1954.0 L1823.2,1952.3 L1828.2,1950.7 L1833.2,1949.3 L1838.2,1947.8 L1843.2,1946.3 L1848.2,1945.1 L1853.2,1944.1 L1858.2,1943.3 L1863.2,1942.4 L1868.2,1941.5 L1873.2,1940.3 L1878.2,1938.8 L1883.2,1937.0 L1888.2,1934.9 L1893.2,1932.7 L1898.2,1930.6 L1903.2,1928.4 L1908.2,1926.4 L1913.2,1924.9 L1918.2,1923.6 L1923.2,1922.4 L1928.2,1921.2 L1933.2,1920.0 L1938.2,1918.7 L1943.2,1917.2 L1948.2,1915.6 L1953.2,1913.9 L1958.2,1912.3 L1963.2,1910.6 L1968.2,1908.8 L1973.2,1906.8 L1978.2,1904.6 L1983.2,1902.4 L1988.2,1900.2 L1993.2,1898.1 L1998.2,1896.2 L2003.2,1894.3 L2008.2,1892.4 L2013.2,1890.5 L2018.2,1888.6 L2023.2,1886.7 L2028.2,1884.9 L2033.2,1883.1 L2038.2,1881.3 L2043.2,1879.4 L2048.2,1877.6 L2053.2,1875.6 L2058.2,1873.5 L2063.2,1871.4 L2068.2,1869.3 L2073.2,1867.4 L2078.2,1865.6 L2083.2,1863.9 L2088.2,1862.2 L2093.2,1860.4 L2098.2,1858.4 L2103.2,1856.4 L2108.2,1854.4 L2113.2,1852.5 L2118.2,1850.7 L2123.2,1849.0 L2128.2,1847.4 L2133.2,1845.8 L2138.2,1844.2 L2143.2,1842.6 L2148.2,1840.9 L2153.2,1839.0 L2158.2,1836.9 L2163.2,1834.9 L2168.2,1832.8 L2173.2,1830.7 L2178.2,1828.7 L2183.2,1826.9 L2188.2,1825.2 L2193.2,1823.6 L2198.2,1821.9 L2203.2,1820.2 L2208.2,1818.6 L2213.2,1816.9 L2218.2,1815.2 L2223.2,1813.3 L2228.2,1810.9 L2233.2,1808.4 L2238.2,1805.6 L2243.2,1802.8 L2248.2,1799.9 L2253.2,1797.0 L2258.2,1794.2 L2263.2,1791.3 L2268.2,1788.4 L2273.2,1785.6 L2278.2,1782.7 L2283.2,1779.8 L2288.2,1776.6 L2293.2,1773.3 L2298.2,1769.6 L2303.2,1765.7 L2308.2,1761.6 L2313.2,1757.6 L2318.2,1753.5 L2323.2,1749.6 L2328.2,1746.0 L2333.2,1742.6 L2338.2,1739.1 L2343.2,1735.7 L2348.2,1732.3 L2353.2,1729.0 L2358.2,1725.6 L2363.2,1722.3 L2368.2,1719.0 L2373.2,1715.5 L2378.2,1711.7 L2383.2,1707.8 L2388.2,1703.8 L2393.2,1699.9 L2398.2,1696.0 L2403.2,1692.0 L2408.2,1688.1 L2413.2,1684.2 L2418.2,1680.5 L2423.2,1677.0 L2428.2,1673.6 L2433.2,1670.3 L2438.2,1666.6 L2443.2,1662.5 L2448.2,1658.3 L2453.2,1654.0 L2458.2,1649.8 L2463.2,1645.9 L2468.2,1642.1 L2473.2,1638.3 L2478.2,1634.7 L2483.2,1631.3 L2488.2,1628.1 L2493.2,1624.9 L2498.2,1621.7 L2503.2,1618.5 L2508.2,1615.1 L2513.2,1611.5 L2518.2,1607.7 L2523.2,1603.9 L2528.2,1600.2 L2533.2,1596.9 L2538.2,1593.6 L2543.2,1590.4 L2548.2,1587.2 L2553.2,1583.9 L2558.2,1580.6 L2563.2,1577.3 L2568.2,1574.0 L2573.2,1570.7 L2578.2,1567.4 L2583.2,1563.9 L2588.2,1560.4 L2593.2,1556.8 L2598.2,1553.3 L2603.2,1549.7 L2608.2,1546.4 L2613.2,1543.4 L2618.2,1540.7 L2623.2,1538.0 L2628.2,1535.4 L2633.2,1532.7 L2638.2,1530.1 L2643.2,1527.6 L2648.2,1525.2 L2653.2,1522.8 L2658.2,1520.5 L2663.2,1518.2 L2668.2,1516.1 L2673.2,1514.0 L2678.2,1511.9 L2683.2,1509.9 L2688.2,1507.8 L2693.2,1505.8 L2698.2,1503.9 L2703.2,1501.9 L2708.2,1500.0 L2713.2,1498.0 L2718.2,1496.1 L2723.2,1494.0 L2728.2,1491.9 L2733.2,1489.8 L2738.2,1487.6 L2743.2,1485.5 L2748.2,1483.4 L2753.2,1481.3 L2758.2,1479.2 L2763.2,1476.7 L2768.2,1473.7 L2773.2,1470.5 L2778.2,1467.3 L2783.2,1464.1 L2788.2,1461.0 L2793.2,1458.0 L2798.2,1454.9 L2803.2,1451.7 L2808.2,1448.1 L2813.2,1444.2 L2818.2,1440.2 L2823.2,1436.0 L2828.2,1431.8 L2833.2,1427.7 L2838.2,1423.5 L2843.2,1419.3 L2848.2,1415.2 L2853.2,1411.0 L2858.2,1406.8 L2863.2,1402.8 L2868.2,1399.0 L2873.2,1395.3 L2878.2,1391.6 L2883.2,1387.8 L2888.2,1384.1 L2893.2,1380.4 L2898.2,1376.6 L2903.2,1372.8 L2908.2,1369.1 L2913.2,1365.3 L2918.2,1361.5 L2923.2,1357.9 L2928.2,1354.7 L2933.2,1351.8 L2938.2,1348.9 L2943.2,1346.0 L2948.2,1343.1 L2953.2,1340.2 L2958.2,1337.2 L2963.2,1334.1 L2968.2,1331.0 L2973.2,1327.8 L2978.2,1324.7 L2983.2,1321.7 L2988.2,1318.7 L2993.2,1316.0 L2998.2,1313.3 L3003.2,1310.6 L3008.2,1307.3 L3013.2,1303.2 L3018.2,1298.7 L3023.2,1294.3 L3028.2,1289.9 L3033.2,1285.6 L3038.2,1281.4 L3043.2,1277.2 L3048.2,1273.1 L3053.2,1269.2 L3058.2,1265.5 L3063.2,1261.9 L3068.2,1258.3 L3073.2,1254.9 L3078.2,1251.9 L3083.2,1248.9 L3088.2,1245.7 L3093.2,1242.0 L3098.2,1238.0 L3103.2,1234.0 L3108.2,1230.1 L3113.2,1226.4 L3118.2,1222.6 L3123.2,1218.9 L3128.2,1215.5 L3133.2,1212.7 L3138.2,1210.2 L3143.2,1207.7 L3148.2,1205.2 L3153.2,1202.7 L3158.2,1200.2 L3163.2,1197.7 L3168.2,1195.2 L3173.2,1192.7 L3178.2,1189.9 L3183.2,1186.7 L3188.2,1183.2 L3193.2,1179.8 L3198.2,1176.4 L3203.2,1173.0 L3208.2,1169.7 L3213.2,1166.7 L3218.2,1163.7 L3223.2,1160.5 L3228.2,1157.1 L3233.2,1153.4 L3238.2,1149.7 L3243.2,1145.9 L3248.2,1142.3 L3253.2,1138.6 L3258.2,1135.0 L3263.2,1131.5 L3268.2,1128.0 L3273.2,1124.8 L3278.2,1122.0 L3283.2,1119.2 L3288.2,1116.4 L3293.2,1113.4 L3298.2,1110.0 L3303.2,1106.5 L3308.2,1103.0 L3313.2,1099.6 L3318.2,1096.3 L3323.2,1093.1 L3328.2,1089.9 L3333.2,1086.7 L3338.2,1083.4 L3343.2,1079.9 L3348.2,1076.6 L3353.2,1073.7 L3358.2,1071.3 L3363.2,1069.0 L3368.2,1066.7 L3373.2,1064.0 L3378.2,1060.7 L3383.2,1057.0 L3388.2,1053.3 L3393.2,1049.9 L3398.2,1047.1 L3403.2,1044.6 L3408.2,1042.1 L3413.2,1039.6 L3418.2,1037.1 L3423.2,1034.6 L3428.2,1032.0 L3433.2,1029.1 L3438.2,1026.1 L3443.2,1023.1 L3448.2,1020.3 L3453.2,1017.6 L3458.2,1015.1 L3463.2,1012.6 L3468.2,1010.1 L3473.2,1007.6 L3478.2,1005.1 L3483.2,1002.6 L3488.2,1000.1 L3493.2,997.7 L3498.2,995.5 L3503.2,993.3 L3508.2,991.1 L3513.2,988.9 L3518.2,986.7 L3523.2,984.6 L3528.2,982.4 L3533.2,980.2 L3538.2,978.0 L3543.2,975.8 L3548.2,973.6 L3553.2,971.5 L3558.2,969.6 L3563.2,967.8 L3568.2,966.1 L3573.2,964.3 L3578.2,962.3 L3583.2,960.0 L3588.2,957.7 L3593.2,955.3 L3598.2,953.0 L3603.2,950.6 L3608.2,948.2 L3613.2,945.8 L3618.2,943.4 L3623.2,941.0 L3628.2,938.6 L3633.2,936.4 L3638.2,934.1 L3643.2,931.8 L3648.2,929.3 L3653.2,926.6 L3658.2,924.0 L3663.2,921.3 L3668.2,918.4 L3673.2,915.4 L3678.2,912.5 L3683.2,909.7 L3688.2,907.0 L3693.2,904.4 L3698.2,901.7 L3703.2,898.9 L3708.2,895.9 L3713.2,892.5 L3718.2,889.1 L3723.2,885.7 L3728.2,882.3 L3733.2,879.3 L3738.2,876.4 L3743.2,873.8 L3748.2,871.4 L3753.2,869.1 L3758.2,866.8 L3763.2,864.5 L3768.2,862.3 L3773.2,860.4 L3778.2,858.6 L3783.2,856.8 L3788.2,855.0 L3793.2,853.1 L3798.2,851.1 L3803.2,849.2 L3808.2,847.2 L3813.2,845.3 L3818.2,843.3 L3823.2,841.5 L3828.2,840.0 L3833.2,838.6 L3838.2,837.3 L3843.2,835.9 L3848.2,834.5 L3853.2,833.1 L3858.2,831.5 L3863.2,829.5 L3868.2,827.2 L3873.2,825.0 L3878.2,822.8 L3883.2,820.6 L3888.2,818.4 L3893.2,816.3 L3898.2,814.0 L3903.2,811.5 L3908.2,809.1 L3913.2,806.6 L3918.2,804.2 L3923.2,801.7 L3928.2,799.1 L3933.2,796.2 L3938.2,792.9 L3943.2,789.6 L3948.2,786.4 L3953.2,783.3 L3958.2,780.4 L3963.2,777.6 L3968.2,774.8 L3973.2,771.9 L3978.2,769.1 L3983.2,766.3 L3988.2,763.5 L3993.2,760.7 L3998.2,757.7 L4003.2,754.3 L4008.2,750.5 L4013.2,746.5 L4018.2,742.5 L4023.2,738.5 L4028.2,734.5 L4033.2,730.6 L4038.2,726.8 L4043.2,723.1 L4048.2,719.4 L4053.2,715.6 L4058.2,712.1 L4063.2,709.1 L4068.2,706.7 L4073.2,704.5 L4078.2,702.4 L4083.2,700.2 L4088.2,698.0 L4093.2,695.8 L4098.2,693.4 L4103.2,691.0 L4108.2,688.6 L4113.2,686.2 L4118.2,683.9 L4123.2,681.7 L4128.2,679.8 L4133.2,678.0 L4138.2,676.2 L4142.8,674.6" fill="none" stroke="#212884" stroke-width="2.78" stroke-linejoin="round"/>
<path d="M438.2,2787.0 L443.2,2784.8 L448.2,2782.5 L453.2,2780.3 L458.2,2778.0 L463.2,2775.8 L468.2,2773.6 L473.2,2771.3 L478.2,2769.1 L483.2,2766.8 L488.2,2764.5 L493.2,2761.9 L498.2,2759.2 L503.2,2756.6 L508.2,2753.9 L513.2,2751.3 L518.2,2748.2 L523.2,2744.6 L528.2,2740.6 L533.2,2736.6 L538.2,2732.6 L543.2,2728.6 L548.2,2724.6 L553.2,2720.7 L558.2,2716.7 L563.2,2712.7 L568.2,2708.6 L573.2,2704.2 L578.2,2699.4 L583.2,2694.7 L588.2,2690.1 L593.2,2685.9 L598.2,2682.3 L603.2,2678.8 L608.2,2675.2 L613.2,2671.7 L618.2,2668.1 L623.2,2664.5 L628.2,2660.9 L633.2,2657.3 L638.2,2653.6 L643.2,2649.5 L648.2,2645.0 L653.2,2640.5 L658.2,2636.1 L663.2,2631.7 L668.2,2627.4 L673.2,2623.0 L678.2,2618.8 L683.2,2614.6 L688.2,2610.4 L693.2,2606.6 L698.2,2603.1 L703.2,2599.8 L708.2,2596.4 L713.2,2592.7 L718.2,2588.6 L723.2,2584.2 L728.2,2579.8 L733.2,2575.5 L738.2,2571.1 L743.2,2566.7 L748.2,2562.4 L753.2,2558.1 L758.2,2554.0 L763.2,2549.8 L768.2,2545.6 L773.2,2541.5 L778.2,2537.3 L783.2,2533.1 L788.2,2529.0 L793.2,2524.8 L798.2,2520.6 L803.2,2516.5 L808.2,2512.3 L813.2,2508.1 L818.2,2504.0 L823.2,2499.8 L828.2,2495.8 L833.2,2492.4 L838.2,2490.0 L843.2,2488.0 L848.2,2486.0 L853.2,2483.8 L858.2,2480.9 L863.2,2477.6 L868.2,2474.2 L873.2,2470.9 L878.2,2467.8 L883.2,2465.0 L888.2,2462.1 L893.2,2459.2 L898.2,2456.3 L903.2,2453.4 L908.2,2450.5 L913.2,2447.6 L918.2,2444.8 L923.2,2441.9 L928.2,2439.1 L933.2,2436.4 L938.2,2434.1 L943.2,2432.0 L948.2,2429.5 L953.2,2426.7 L958.2,2423.8 L963.2,2420.8 L968.2,2417.9 L973.2,2414.9 L978.2,2411.8 L983.2,2408.7 L988.2,2405.6 L993.2,2402.4 L998.2,2399.0 L1003.2,2395.4 L1008.2,2391.8 L1013.2,2388.5 L1018.2,2385.3 L1023.2,2382.1 L1028.2,2378.7 L1033.2,2375.3 L1038.2,2371.9 L1043.2,2368.5 L1048.2,2365.3 L1053.2,2362.4 L1058.2,2359.7 L1063.2,2357.0 L1068.2,2354.2 L1073.2,2351.5 L1078.2,2348.5 L1083.2,2345.3 L1088.2,2341.9 L1093.2,2338.7 L1098.2,2335.6 L1103.2,2332.6 L1108.2,2329.6 L1113.2,2326.6 L1118.2,2323.7 L1123.2,2320.9 L1128.2,2318.1 L1133.2,2315.4 L1138.2,2312.7 L1143.2,2310.0 L1148.2,2307.3 L1153.2,2304.6 L1158.2,2301.9 L1163.2,2299.1 L1168.2,2296.3 L1173.2,2293.4 L1178.2,2290.6 L1183.2,2287.8 L1188.2,2284.9 L1193.2,2282.1 L1198.2,2279.3 L1203.2,2276.5 L1208.2,2273.7 L1213.2,2271.0 L1218.2,2268.5 L1223.2,2266.0 L1228.2,2263.5 L1233.2,2261.0 L1238.2,2258.4 L1243.2,2255.7 L1248.2,2252.8 L1253.2,2249.9 L1258.2,2247.0 L1263.2,2244.1 L1268.2,2241.3 L1273.2,2238.5 L1278.2,2236.0 L1283.2,2233.5 L1288.2,2230.9 L1293.2,2228.2 L1298.2,2225.2 L1303.2,2222.2 L1308.2,2219.4 L1313.2,2216.7 L1318.2,2214.0 L1323.2,2211.2 L1328.2,2208.6 L1333.2,2206.4 L1338.2,2204.6 L1343.2,2203.0 L1348.2,2201.3 L1353.2,2199.6 L1358.2,2198.0 L1363.2,2196.2 L1368.2,2194.4 L1373.2,2192.6 L1378.2,2190.8 L1383.2,2189.0 L1388.2,2187.1 L1393.2,2185.3 L1398.2,2183.4 L1403.2,2181.5 L1408.2,2179.5 L1413.2,2177.6 L1418.2,2175.7 L1423.2,2173.8 L1428.2,2171.9 L1433.2,2169.9 L1438.2,2167.8 L1443.2,2165.7 L1448.2,2163.6 L1453.2,2161.9 L1458.2,2160.5 L1463.2,2159.1 L1468.2,2157.8 L1473.2,2156.3 L1478.2,2154.5 L1483.2,2152.5 L1488.2,2150.5 L1493.2,2148.4 L1498.2,2146.4 L1503.2,2144.3 L1508.2,2142.3 L1513.2,2140.3 L1518.2,2138.3 L1523.2,2136.3 L1528.2,2134.2 L1533.2,2132.0 L1538.2,2129.7 L1543.2,2127.5 L1548.2,2125.2 L1553.2,2123.0 L1558.2,2120.9 L1563.2,2118.9 L1568.2,2116.9 L1573.2,2114.7 L1578.2,2112.5 L1583.2,2110.3 L1588.2,2108.1 L1593.2,2105.8 L1598.2,2103.2 L1603.2,2100.6 L1608.2,2097.8 L1613.2,2095.1 L1618.2,2092.4 L1623.2,2089.7 L1628.2,2087.2 L1633.2,2084.8 L1638.2,2082.6 L1643.2,2080.3 L1648.2,2078.1 L1653.2,2075.9 L1658.2,2073.8 L1663.2,2071.8 L1668.2,2069.9 L1673.2,2067.9 L1678.2,2065.7 L1683.2,2063.4 L1688.2,2061.0 L1693.2,2058.6 L1698.2,2056.1 L1703.2,2053.8 L1708.2,2051.5 L1713.2,2049.4 L1718.2,2047.4 L1723.2,2045.4 L1728.2,2043.3 L1733.2,2041.3 L1738.2,2039.5 L1743.2,2037.7 L1748.2,2036.1 L1753.2,2034.4 L1758.2,2032.7 L1763.2,2031.2 L1768.2,2029.6 L1773.2,2028.0 L1778.2,2026.5 L1783.2,2024.9 L1788.2,2023.4 L1793.2,2021.8 L1798.2,2020.2 L1803.2,2018.7 L1808.2,2017.1 L1813.2,2015.5 L1818.2,2013.7 L1823.2,2011.7 L1828.2,2009.7 L1833.2,2007.7 L1838.2,2005.9 L1843.2,2004.2 L1848.2,2002.4 L1853.2,2000.4 L1858.2,1998.2 L1863.2,1995.9 L1868.2,1993.7 L1873.2,1991.4 L1878.2,1989.2 L1883.2,1986.9 L1888.2,1984.7 L1893.2,1982.4 L1898.2,1980.2 L1903.2,1978.0 L1908.2,1975.8 L1913.2,1973.8 L1918.2,1971.7 L1923.2,1969.6 L1928.2,1967.5 L1933.2,1965.3 L1938.2,1963.1 L1943.2,1961.1 L1948.2,1959.5 L1953.2,1958.1 L1958.2,1956.6 L1963.2,1955.1 L1968.2,1953.7 L1973.2,1952.4 L1978.2,1951.2 L1983.2,1950.1 L1988.2,1948.9 L1993.2,1947.7 L1998.2,1946.5 L2003.2,1945.2 L2008.2,1943.8 L2013.2,1942.4 L2018.2,1940.7 L2023.2,1938.9 L2028.2,1937.3 L2033.2,1936.1 L2038.2,1935.3 L2043.2,1934.7 L2048.2,1934.1 L2053.2,1933.5 L2058.2,1932.9 L2063.2,1932.4 L2068.2,1931.8 L2073.2,1931.0 L2078.2,1929.8 L2083.2,1928.5 L2088.2,1927.3 L2093.2,1926.0 L2098.2,1924.6 L2103.2,1923.3 L2108.2,1921.9 L2113.2,1920.5 L2118.2,1919.3 L2123.2,1918.1 L2128.2,1916.8 L2133.2,1915.6 L2138.2,1914.2 L2143.2,1912.8 L2148.2,1911.3 L2153.2,1909.9 L2158.2,1908.4 L2163.2,1906.6 L2168.2,1904.1 L2173.2,1901.0 L2178.2,1897.9 L2183.2,1895.0 L2188.2,1892.7 L2193.2,1890.7 L2198.2,1888.7 L2203.2,1886.7 L2208.2,1884.7 L2213.2,1882.5 L2218.2,1880.1 L2223.2,1877.6 L2228.2,1875.0 L2233.2,1872.4 L2238.2,1869.8 L2243.2,1867.4 L2248.2,1865.4 L2253.2,1863.7 L2258.2,1862.1 L2263.2,1860.6 L2268.2,1859.2 L2273.2,1857.7 L2278.2,1856.3 L2283.2,1854.9 L2288.2,1853.4 L2293.2,1851.7 L2298.2,1850.1 L2303.2,1848.3 L2308.2,1846.2 L2313.2,1843.7 L2318.2,1841.0 L2323.2,1838.4 L2328.2,1835.8 L2333.2,1833.3 L2338.2,1830.8 L2343.2,1828.2 L2348.2,1825.3 L2353.2,1821.9 L2358.2,1818.2 L2363.2,1814.6 L2368.2,1811.0 L2373.2,1807.2 L2378.2,1803.5 L2383.2,1799.7 L2388.2,1795.9 L2393.2,1792.2 L2398.2,1788.9 L2403.2,1786.1 L2408.2,1783.4 L2413.2,1780.8 L2418.2,1777.8 L2423.2,1774.5 L2428.2,1771.0 L2433.2,1767.5 L2438.2,1764.0 L2443.2,1760.5 L2448.2,1757.2 L2453.2,1754.1 L2458.2,1751.0 L2463.2,1747.9 L2468.2,1745.0 L2473.2,1742.3 L2478.2,1739.7 L2483.2,1737.1 L2488.2,1734.4 L2493.2,1731.7 L2498.2,1729.0 L2503.2,1726.3 L2508.2,1723.5 L2513.2,1720.8 L2518.2,1718.0 L2523.2,1715.2 L2528.2,1712.3 L2533.2,1709.5 L2538.2,1706.7 L2543.2,1703.8 L2548.2,1701.0 L2553.2,1698.2 L2558.2,1695.5 L2563.2,1692.7 L2568.2,1690.0 L2573.2,1687.2 L2578.2,1684.4 L2583.2,1681.5 L2588.2,1678.5 L2593.2,1675.4 L2598.2,1672.4 L2603.2,1669.3 L2608.2,1666.4 L2613.2,1663.8 L2618.2,1661.4 L2623.2,1659.0 L2628.2,1656.6 L2633.2,1654.2 L2638.2,1651.9 L2643.2,1649.5 L2648.2,1647.0 L2653.2,1644.4 L2658.2,1641.7 L2663.2,1639.0 L2668.2,1636.3 L2673.2,1633.7 L2678.2,1631.1 L2683.2,1628.6 L2688.2,1626.1 L2693.2,1623.6 L2698.2,1621.0 L2703.2,1617.9 L2708.2,1614.2 L2713.2,1610.2 L2718.2,1606.2 L2723.2,1602.2 L2728.2,1598.2 L2733.2,1594.4 L2738.2,1590.7 L2743.2,1587.1 L2748.2,1583.4 L2753.2,1579.8 L2758.2,1576.2 L2763.2,1572.7 L2768.2,1569.6 L2773.2,1566.6 L2778.2,1563.6 L2783.2,1560.6 L2788.2,1557.6 L2793.2,1554.9 L2798.2,1552.6 L2803.2,1550.7 L2808.2,1548.7 L2813.2,1546.1 L2818.2,1543.0 L2823.2,1539.8 L2828.2,1537.1 L2833.2,1534.7 L2838.2,1532.4 L2843.2,1529.8 L2848.2,1527.0 L2853.2,1524.1 L2858.2,1521.1 L2863.2,1517.9 L2868.2,1514.4 L2873.2,1510.6 L2878.2,1506.9 L2883.2,1503.1 L2888.2,1499.5 L2893.2,1496.3 L2898.2,1493.4 L2903.2,1490.6 L2908.2,1487.8 L2913.2,1485.0 L2918.2,1482.0 L2923.2,1478.8 L2928.2,1475.5 L2933.2,1472.2 L2938.2,1468.8 L2943.2,1465.6 L2948.2,1462.3 L2953.2,1459.2 L2958.2,1456.0 L2963.2,1452.9 L2968.2,1449.8 L2973.2,1446.7 L2978.2,1443.7 L2983.2,1440.7 L2988.2,1437.7 L2993.2,1434.7 L2998.2,1431.7 L3003.2,1428.7 L3008.2,1425.7 L3013.2,1422.7 L3018.2,1419.7 L3023.2,1416.7 L3028.2,1413.8 L3033.2,1410.9 L3038.2,1408.1 L3043.2,1405.3 L3048.2,1402.6 L3053.2,1399.8 L3058.2,1397.1 L3063.2,1394.4 L3068.2,1391.9 L3073.2,1389.6 L3078.2,1387.3 L3083.2,1385.1 L3088.2,1382.7 L3093.2,1380.2 L3098.2,1377.7 L3103.2,1375.2 L3108.2,1372.8 L3113.2,1370.4 L3118.2,1368.1 L3123.2,1365.7 L3128.2,1363.2 L3133.2,1360.2 L3138.2,1357.1 L3143.2,1354.0 L3148.2,1350.9 L3153.2,1347.8 L3158.2,1345.0 L3163.2,1342.6 L3168.2,1340.2 L3173.2,1337.9 L3178.2,1335.7 L3183.2,1333.8 L3188.2,1331.9 L3193.2,1330.1 L3198.2,1328.1 L3203.2,1325.9 L3208.2,1323.4 L3213.2,1320.9 L3218.2,1318.4 L3223.2,1315.9 L3228.2,1313.4 L3233.2,1310.9 L3238.2,1308.4 L3243.2,1305.9 L3248.2,1303.6 L3253.2,1301.6 L3258.2,1299.9 L3263.2,1298.2 L3268.2,1296.5 L3273.2,1294.8 L3278.2,1293.0 L3283.2,1291.3 L3288.2,1289.5 L3293.2,1287.7 L3298.2,1285.9 L3303.2,1284.1 L3308.2,1282.3 L3313.2,1280.5 L3318.2,1278.8 L3323.2,1277.3 L3328.2,1276.0 L3333.2,1274.7 L3338.2,1273.4 L3343.2,1271.9 L3348.2,1270.0 L3353.2,1268.0 L3358.2,1266.1 L3363.2,1264.0 L3368.2,1261.9 L3373.2,1259.8 L3378.2,1257.7 L3383.2,1255.6 L3388.2,1253.6 L3393.2,1251.8 L3398.2,1250.1 L3403.2,1248.5 L3408.2,1246.8 L3413.2,1245.0 L3418.2,1242.9 L3423.2,1240.7 L3428.2,1238.5 L3433.2,1236.2 L3438.2,1233.8 L3443.2,1231.3 L3448.2,1229.0 L3453.2,1226.9 L3458.2,1224.8 L3463.2,1222.5 L3468.2,1220.0 L3473.2,1217.5 L3478.2,1215.0 L3483.2,1212.4 L3488.2,1209.9 L3493.2,1207.3 L3498.2,1204.7 L3503.2,1202.0 L3508.2,1199.4 L3513.2,1196.8 L3518.2,1194.2 L3523.2,1191.6 L3528.2,1189.0 L3533.2,1186.7 L3538.2,1184.8 L3543.2,1183.1 L3548.2,1181.4 L3553.2,1179.5 L3558.2,1177.3 L3563.2,1174.9 L3568.2,1172.4 L3573.2,1169.9 L3578.2,1167.5 L3583.2,1165.1 L3588.2,1162.6 L3593.2,1160.0 L3598.2,1157.2 L3603.2,1154.4 L3608.2,1151.7 L3613.2,1149.0 L3618.2,1146.5 L3623.2,1144.1 L3628.2,1141.7 L3633.2,1139.3 L3638.2,1136.4 L3643.2,1133.2 L3648.2,1129.8 L3653.2,1126.5 L3658.2,1123.4 L3663.2,1120.5 L3668.2,1117.6 L3673.2,1114.7 L3678.2,1111.8 L3683.2,1109.0 L3688.2,1106.1 L3693.2,1103.2 L3698.2,1100.2 L3703.2,1097.0 L3708.2,1093.8 L3713.2,1090.7 L3718.2,1088.1 L3723.2,1086.0 L3728.2,1084.1 L3733.2,1081.9 L3738.2,1079.7 L3743.2,1077.5 L3748.2,1075.3 L3753.2,1073.2 L3758.2,1071.1 L3763.2,1068.9 L3768.2,1066.7 L3773.2,1064.5 L3778.2,1062.2 L3783.2,1059.9 L3788.2,1057.1 L3793.2,1054.0 L3798.2,1050.7 L3803.2,1047.5 L3808.2,1044.3 L3813.2,1041.5 L3818.2,1038.7 L3823.2,1035.9 L3828.2,1033.2 L3833.2,1030.3 L3838.2,1027.2 L3843.2,1023.7 L3848.2,1019.9 L3853.2,1016.1 L3858.2,1012.4 L3863.2,1008.7 L3868.2,1005.1 L3873.2,1001.5 L3878.2,997.8 L3883.2,993.7 L3888.2,989.5 L3893.2,985.3 L3898.2,981.3 L3903.2,977.9 L3908.2,974.6 L3913.2,970.7 L3918.2,966.6 L3923.2,962.3 L3928.2,958.1 L3933.2,953.8 L3938.2,949.6 L3943.2,945.3 L3948.2,941.0 L3953.2,936.7 L3958.2,932.3 L3963.2,927.9 L3968.2,923.8 L3973.2,920.3 L3978.2,917.0 L3983.2,913.5 L3988.2,909.5 L3993.2,905.3 L3998.2,900.9 L4003.2,896.4 L4008.2,891.9 L4013.2,887.4 L4018.2,883.0 L4023.2,879.0 L4028.2,875.3 L4033.2,871.8 L4038.2,868.4 L4043.2,865.0 L4048.2,861.6 L4053.2,858.2 L4058.2,854.9 L4063.2,851.5 L4068.2,848.1 L4073.2,844.8 L4078.2,841.5 L4083.2,838.2 L4088.2,835.0 L4093.2,831.5 L4098.2,827.7 L4103.2,823.7 L4108.2,819.6 L4113.2,815.6 L4118.2,811.6 L4123.2,807.4 L4128.2,803.3 L4133.2,799.0 L4138.2,794.9 L4142.8,790.9" fill="none" stroke="#141a50" stroke-width="2.78" stroke-linejoin="round"/>
<rect x="253.0" y="344.0" width="4075.0" height="2561.0" fill="none" stroke="#000" stroke-width="2.22" stroke-linejoin="miter"/>
<line x1="243.3" y1="2791.0" x2="253.0" y2="2791.0" stroke="#000" stroke-width="2.22"/>
<line x1="243.3" y1="2444.8" x2="253.0" y2="2444.8" stroke="#000" stroke-width="2.22"/>
<line x1="243.3" y1="2098.7" x2="253.0" y2="2098.7" stroke="#000" stroke-width="2.22"/>
<line x1="243.3" y1="1752.6" x2="253.0" y2="1752.6" stroke="#000" stroke-width="2.22"/>
<line x1="243.3" y1="1406.4" x2="253.0" y2="1406.4" stroke="#000" stroke-width="2.22"/>
<line x1="243.3" y1="1060.2" x2="253.0" y2="1060.2" stroke="#000" stroke-width="2.22"/>
<line x1="243.3" y1="714.1" x2="253.0" y2="714.1" stroke="#000" stroke-width="2.22"/>
<line x1="243.3" y1="368.0" x2="253.0" y2="368.0" stroke="#000" stroke-width="2.22"/>
<line x1="438.2" y1="2905.0" x2="438.2" y2="2914.7" stroke="#000" stroke-width="2.22"/>
<line x1="752.8" y1="2905.0" x2="752.8" y2="2914.7" stroke="#000" stroke-width="2.22"/>
<line x1="1037.0" y1="2905.0" x2="1037.0" y2="2914.7" stroke="#000" stroke-width="2.22"/>
<line x1="1351.7" y1="2905.0" x2="1351.7" y2="2914.7" stroke="#000" stroke-width="2.22"/>
<line x1="1656.2" y1="2905.0" x2="1656.2" y2="2914.7" stroke="#000" stroke-width="2.22"/>
<line x1="1970.8" y1="2905.0" x2="1970.8" y2="2914.7" stroke="#000" stroke-width="2.22"/>
<line x1="2275.3" y1="2905.0" x2="2275.3" y2="2914.7" stroke="#000" stroke-width="2.22"/>
<line x1="2589.9" y1="2905.0" x2="2589.9" y2="2914.7" stroke="#000" stroke-width="2.22"/>
<line x1="2904.6" y1="2905.0" x2="2904.6" y2="2914.7" stroke="#000" stroke-width="2.22"/>
<line x1="3209.0" y1="2905.0" x2="3209.0" y2="2914.7" stroke="#000" stroke-width="2.22"/>
<line x1="3523.7" y1="2905.0" x2="3523.7" y2="2914.7" stroke="#000" stroke-width="2.22"/>
<line x1="3828.2" y1="2905.0" x2="3828.2" y2="2914.7" stroke="#000" stroke-width="2.22"/>
<line x1="4142.8" y1="2905.0" x2="4142.8" y2="2914.7" stroke="#000" stroke-width="2.22"/>
<line x1="265.7" y1="2905.0" x2="265.7" y2="2910.6" stroke="#000" stroke-width="1.67"/>
<line x1="336.7" y1="2905.0" x2="336.7" y2="2910.6" stroke="#000" stroke-width="1.67"/>
<line x1="407.8" y1="2905.0" x2="407.8" y2="2910.6" stroke="#000" stroke-width="1.67"/>
<line x1="478.8" y1="2905.0" x2="478.8" y2="2910.6" stroke="#000" stroke-width="1.67"/>
<line x1="549.8" y1="2905.0" x2="549.8" y2="2910.6" stroke="#000" stroke-width="1.67"/>
<line x1="620.9" y1="2905.0" x2="620.9" y2="2910.6" stroke="#000" stroke-width="1.67"/>
<line x1="691.9" y1="2905.0" x2="691.9" y2="2910.6" stroke="#000" stroke-width="1.67"/>
<line x1="763.0" y1="2905.0" x2="763.0" y2="2910.6" stroke="#000" stroke-width="1.67"/>
<line x1="834.0" y1="2905.0" x2="834.0" y2="2910.6" stroke="#000" stroke-width="1.67"/>
<line x1="905.1" y1="2905.0" x2="905.1" y2="2910.6" stroke="#000" stroke-width="1.67"/>
<line x1="976.1" y1="2905.0" x2="976.1" y2="2910.6" stroke="#000" stroke-width="1.67"/>
<line x1="1047.2" y1="2905.0" x2="1047.2" y2="2910.6" stroke="#000" stroke-width="1.67"/>
<line x1="1118.2" y1="2905.0" x2="1118.2" y2="2910.6" stroke="#000" stroke-width="1.67"/>
<line x1="1189.3" y1="2905.0" x2="1189.3" y2="2910.6" stroke="#000" stroke-width="1.67"/>
<line x1="1260.3" y1="2905.0" x2="1260.3" y2="2910.6" stroke="#000" stroke-width="1.67"/>
<line x1="1331.4" y1="2905.0" x2="1331.4" y2="2910.6" stroke="#000" stroke-width="1.67"/>
<line x1="1402.4" y1="2905.0" x2="1402.4" y2="2910.6" stroke="#000" stroke-width="1.67"/>
<line x1="1473.5" y1="2905.0" x2="1473.5" y2="2910.6" stroke="#000" stroke-width="1.67"/>
<line x1="1544.5" y1="2905.0" x2="1544.5" y2="2910.6" stroke="#000" stroke-width="1.67"/>
<line x1="1615.6" y1="2905.0" x2="1615.6" y2="2910.6" stroke="#000" stroke-width="1.67"/>
<line x1="1686.6" y1="2905.0" x2="1686.6" y2="2910.6" stroke="#000" stroke-width="1.67"/>
<line x1="1757.6" y1="2905.0" x2="1757.6" y2="2910.6" stroke="#000" stroke-width="1.67"/>
<line x1="1828.7" y1="2905.0" x2="1828.7" y2="2910.6" stroke="#000" stroke-width="1.67"/>
<line x1="1899.7" y1="2905.0" x2="1899.7" y2="2910.6" stroke="#000" stroke-width="1.67"/>
<line x1="2041.8" y1="2905.0" x2="2041.8" y2="2910.6" stroke="#000" stroke-width="1.67"/>
<line x1="2112.9" y1="2905.0" x2="2112.9" y2="2910.6" stroke="#000" stroke-width="1.67"/>
<line x1="2183.9" y1="2905.0" x2="2183.9" y2="2910.6" stroke="#000" stroke-width="1.67"/>
<line x1="2255.0" y1="2905.0" x2="2255.0" y2="2910.6" stroke="#000" stroke-width="1.67"/>
<line x1="2326.0" y1="2905.0" x2="2326.0" y2="2910.6" stroke="#000" stroke-width="1.67"/>
<line x1="2397.1" y1="2905.0" x2="2397.1" y2="2910.6" stroke="#000" stroke-width="1.67"/>
<line x1="2468.1" y1="2905.0" x2="2468.1" y2="2910.6" stroke="#000" stroke-width="1.67"/>
<line x1="2539.2" y1="2905.0" x2="2539.2" y2="2910.6" stroke="#000" stroke-width="1.67"/>
<line x1="2610.2" y1="2905.0" x2="2610.2" y2="2910.6" stroke="#000" stroke-width="1.67"/>
<line x1="2681.3" y1="2905.0" x2="2681.3" y2="2910.6" stroke="#000" stroke-width="1.67"/>
<line x1="2752.3" y1="2905.0" x2="2752.3" y2="2910.6" stroke="#000" stroke-width="1.67"/>
<line x1="2823.4" y1="2905.0" x2="2823.4" y2="2910.6" stroke="#000" stroke-width="1.67"/>
<line x1="2894.4" y1="2905.0" x2="2894.4" y2="2910.6" stroke="#000" stroke-width="1.67"/>
<line x1="2965.4" y1="2905.0" x2="2965.4" y2="2910.6" stroke="#000" stroke-width="1.67"/>
<line x1="3036.5" y1="2905.0" x2="3036.5" y2="2910.6" stroke="#000" stroke-width="1.67"/>
<line x1="3107.5" y1="2905.0" x2="3107.5" y2="2910.6" stroke="#000" stroke-width="1.67"/>
<line x1="3178.6" y1="2905.0" x2="3178.6" y2="2910.6" stroke="#000" stroke-width="1.67"/>
<line x1="3249.6" y1="2905.0" x2="3249.6" y2="2910.6" stroke="#000" stroke-width="1.67"/>
<line x1="3320.7" y1="2905.0" x2="3320.7" y2="2910.6" stroke="#000" stroke-width="1.67"/>
<line x1="3391.7" y1="2905.0" x2="3391.7" y2="2910.6" stroke="#000" stroke-width="1.67"/>
<line x1="3462.8" y1="2905.0" x2="3462.8" y2="2910.6" stroke="#000" stroke-width="1.67"/>
<line x1="3533.8" y1="2905.0" x2="3533.8" y2="2910.6" stroke="#000" stroke-width="1.67"/>
<line x1="3604.9" y1="2905.0" x2="3604.9" y2="2910.6" stroke="#000" stroke-width="1.67"/>
<line x1="3675.9" y1="2905.0" x2="3675.9" y2="2910.6" stroke="#000" stroke-width="1.67"/>
<line x1="3747.0" y1="2905.0" x2="3747.0" y2="2910.6" stroke="#000" stroke-width="1.67"/>
<line x1="3818.0" y1="2905.0" x2="3818.0" y2="2910.6" stroke="#000" stroke-width="1.67"/>
<line x1="3889.1" y1="2905.0" x2="3889.1" y2="2910.6" stroke="#000" stroke-width="1.67"/>
<line x1="3960.1" y1="2905.0" x2="3960.1" y2="2910.6" stroke="#000" stroke-width="1.67"/>
<line x1="4031.2" y1="2905.0" x2="4031.2" y2="2910.6" stroke="#000" stroke-width="1.67"/>
<line x1="4102.2" y1="2905.0" x2="4102.2" y2="2910.6" stroke="#000" stroke-width="1.67"/>
<line x1="4173.2" y1="2905.0" x2="4173.2" y2="2910.6" stroke="#000" stroke-width="1.67"/>
<line x1="4244.3" y1="2905.0" x2="4244.3" y2="2910.6" stroke="#000" stroke-width="1.67"/>
<line x1="4315.3" y1="2905.0" x2="4315.3" y2="2910.6" stroke="#000" stroke-width="1.67"/>
<g fill="#000">
<text x="1280.52" y="120.20" font-size="76.40" textLength="2238.70" lengthAdjust="spacingAndGlyphs">Cumulative consumption (leontief) in [HR] croatia - fossil gas</text>
<text x="1914.97" y="202.00" font-size="76.70" textLength="968.38" lengthAdjust="spacingAndGlyphs">01-01-2016 to 01-01-2025</text>
<text x="4002.50" y="66.30" font-size="63.60" textLength="776.92" lengthAdjust="spacingAndGlyphs">Thomas Auriel - CC BY-SA</text>
<text x="3906.10" y="134.30" font-size="63.60" textLength="872.19" lengthAdjust="spacingAndGlyphs">Source: ENTSO-E, IPCC 2014</text>
<text x="3795.35" y="331.50" font-size="65.00" textLength="534.21" lengthAdjust="spacingAndGlyphs">time interval: 1hr</text>
<text x="138.55" y="2813.70" font-size="64.30" textLength="92.01" lengthAdjust="spacingAndGlyphs">0.0</text>
<text x="138.55" y="2467.55" font-size="64.30" textLength="92.01" lengthAdjust="spacingAndGlyphs">0.5</text>
<text x="138.55" y="2121.40" font-size="64.30" textLength="92.01" lengthAdjust="spacingAndGlyphs">1.0</text>
<text x="138.55" y="1775.25" font-size="64.30" textLength="92.01" lengthAdjust="spacingAndGlyphs">1.5</text>
<text x="138.55" y="1429.10" font-size="64.30" textLength="92.01" lengthAdjust="spacingAndGlyphs">2.0</text>
<text x="138.55" y="1082.95" font-size="64.30" textLength="92.01" lengthAdjust="spacingAndGlyphs">2.5</text>
<text x="138.55" y="736.80" font-size="64.30" textLength="92.01" lengthAdjust="spacingAndGlyphs">3.0</text>
<text x="138.55" y="390.65" font-size="64.30" textLength="92.01" lengthAdjust="spacingAndGlyphs">3.5</text>
<rect x="4359.6" y="375.7" width="375.1" height="823.7" rx="11" ry="11" fill="#fff" fill-opacity="0.8" stroke="#d6d6d6" stroke-width="2.2"/>
<line x1="4382" y1="424.4" x2="4507" y2="424.4" stroke="#32c232" stroke-width="2.78"/>
<text x="4555.32" y="444.80" font-size="65.80" textLength="152.75" lengthAdjust="spacingAndGlyphs">2016</text>
<line x1="4382" y1="513.9" x2="4507" y2="513.9" stroke="#2aa22a" stroke-width="2.78"/>
<text x="4555.32" y="534.30" font-size="65.80" textLength="152.75" lengthAdjust="spacingAndGlyphs">2017</text>
<line x1="4382" y1="603.4" x2="4507" y2="603.4" stroke="#238223" stroke-width="2.78"/>
<text x="4555.32" y="623.80" font-size="65.80" textLength="152.75" lengthAdjust="spacingAndGlyphs">2018</text>
<line x1="4382" y1="692.9" x2="4507" y2="692.9" stroke="#165218" stroke-width="2.78"/>
<text x="4555.32" y="713.30" font-size="65.80" textLength="152.75" lengthAdjust="spacingAndGlyphs">2019</text>
<line x1="4382" y1="782.4" x2="4507" y2="782.4" stroke="#7b82dc" stroke-width="2.78"/>
<text x="4555.32" y="802.80" font-size="65.80" textLength="152.75" lengthAdjust="spacingAndGlyphs">2020</text>
<line x1="4382" y1="871.9" x2="4507" y2="871.9" stroke="#4b55d2" stroke-width="2.78"/>
<text x="4555.32" y="892.30" font-size="65.80" textLength="152.75" lengthAdjust="spacingAndGlyphs">2021</text>
<line x1="4382" y1="961.4" x2="4507" y2="961.4" stroke="#2c35b2" stroke-width="2.78"/>
<text x="4555.32" y="981.80" font-size="65.80" textLength="152.75" lengthAdjust="spacingAndGlyphs">2022</text>
<line x1="4382" y1="1050.9" x2="4507" y2="1050.9" stroke="#212884" stroke-width="2.78"/>
<text x="4555.32" y="1071.30" font-size="65.80" textLength="152.75" lengthAdjust="spacingAndGlyphs">2023</text>
<line x1="4382" y1="1140.4" x2="4507" y2="1140.4" stroke="#141a50" stroke-width="2.78"/>
<text x="4555.32" y="1160.80" font-size="65.80" textLength="152.75" lengthAdjust="spacingAndGlyphs">2024</text>
<text transform="translate(112.00,2086.95) rotate(-90)" x="0" y="0" font-size="63.60" textLength="921.72" lengthAdjust="spacingAndGlyphs">Consumption (Leontief) [TWh]</text>
<text x="2230.65" y="3120.80" font-size="63.50" textLength="118.91" lengthAdjust="spacingAndGlyphs">Day</text>
<text transform="translate(428.50,2965.00) rotate(-30)" x="0" y="0" text-anchor="end" font-size="64.00" textLength="175.00" lengthAdjust="spacingAndGlyphs">01-01</text>
<text transform="translate(743.14,2965.00) rotate(-30)" x="0" y="0" text-anchor="end" font-size="64.00" textLength="175.00" lengthAdjust="spacingAndGlyphs">01-02</text>
<text transform="translate(1027.33,2965.00) rotate(-30)" x="0" y="0" text-anchor="end" font-size="64.00" textLength="175.00" lengthAdjust="spacingAndGlyphs">01-03</text>
<text transform="translate(1341.96,2965.00) rotate(-30)" x="0" y="0" text-anchor="end" font-size="64.00" textLength="175.00" lengthAdjust="spacingAndGlyphs">01-04</text>
<text transform="translate(1646.45,2965.00) rotate(-30)" x="0" y="0" text-anchor="end" font-size="64.00" textLength="175.00" lengthAdjust="spacingAndGlyphs">01-05</text>
<text transform="translate(1961.09,2965.00) rotate(-30)" x="0" y="0" text-anchor="end" font-size="64.00" textLength="175.00" lengthAdjust="spacingAndGlyphs">01-06</text>
<text transform="translate(2265.58,2965.00) rotate(-30)" x="0" y="0" text-anchor="end" font-size="64.00" textLength="175.00" lengthAdjust="spacingAndGlyphs">01-07</text>
<text transform="translate(2580.21,2965.00) rotate(-30)" x="0" y="0" text-anchor="end" font-size="64.00" textLength="175.00" lengthAdjust="spacingAndGlyphs">01-08</text>
<text transform="translate(2894.85,2965.00) rotate(-30)" x="0" y="0" text-anchor="end" font-size="64.00" textLength="175.00" lengthAdjust="spacingAndGlyphs">01-09</text>
<text transform="translate(3199.34,2965.00) rotate(-30)" x="0" y="0" text-anchor="end" font-size="64.00" textLength="175.00" lengthAdjust="spacingAndGlyphs">01-10</text>
<text transform="translate(3513.98,2965.00) rotate(-30)" x="0" y="0" text-anchor="end" font-size="64.00" textLength="175.00" lengthAdjust="spacingAndGlyphs">01-11</text>
<text transform="translate(3818.46,2965.00) rotate(-30)" x="0" y="0" text-anchor="end" font-size="64.00" textLength="175.00" lengthAdjust="spacingAndGlyphs">01-12</text>
<text transform="translate(4133.10,2965.00) rotate(-30)" x="0" y="0" text-anchor="end" font-size="64.00" textLength="175.00" lengthAdjust="spacingAndGlyphs">01-01</text>
</g>
</svg></body></html>
